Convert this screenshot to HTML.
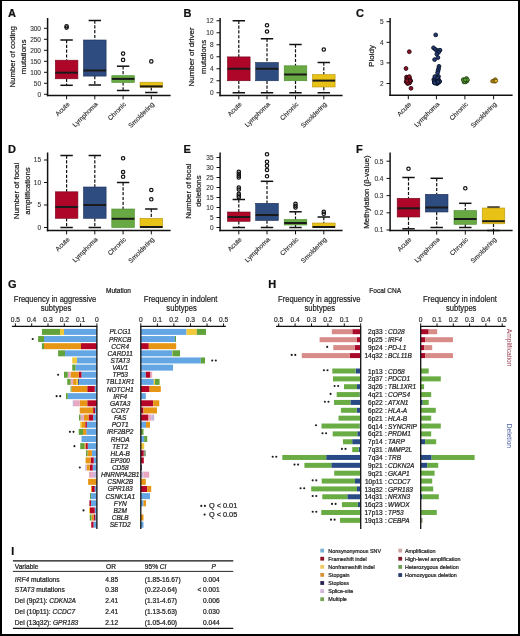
<!DOCTYPE html>
<html><head><meta charset="utf-8"><style>
html,body{margin:0;padding:0;background:#fff;}
.frame{position:relative;width:520px;height:636px;overflow:hidden;background:#fff;}
.frame svg{position:absolute;left:0;top:0;will-change:transform;}
text{stroke-linejoin:round;}
.bt{position:absolute;background:#000;}
</style></head><body><div class="frame">
<svg width="520" height="636" viewBox="0 0 520 636" font-family='"Liberation Sans", sans-serif'>
<rect x="0" y="0" width="520" height="636" fill="#fff"/>
<text x="8.10" y="17.30" font-size="11" fill="#111" stroke="#111" stroke-width="0.22" font-weight="bold">A</text>
<text x="183.40" y="17.30" font-size="11" fill="#111" stroke="#111" stroke-width="0.22" font-weight="bold">B</text>
<text x="355.90" y="17.30" font-size="11" fill="#111" stroke="#111" stroke-width="0.22" font-weight="bold">C</text>
<text x="8.10" y="152.70" font-size="11" fill="#111" stroke="#111" stroke-width="0.22" font-weight="bold">D</text>
<text x="183.40" y="152.70" font-size="11" fill="#111" stroke="#111" stroke-width="0.22" font-weight="bold">E</text>
<text x="355.90" y="152.70" font-size="11" fill="#111" stroke="#111" stroke-width="0.22" font-weight="bold">F</text>
<text x="7.90" y="288.30" font-size="11" fill="#111" stroke="#111" stroke-width="0.22" font-weight="bold">G</text>
<text x="268.20" y="288.30" font-size="11" fill="#111" stroke="#111" stroke-width="0.22" font-weight="bold">H</text>
<text x="11.20" y="554.80" font-size="10.6" fill="#111" stroke="#111" stroke-width="0.22" font-weight="bold">I</text>
<line x1="47.60" y1="18.00" x2="47.60" y2="96.20" stroke="#111" stroke-width="1.5"/>
<line x1="46.85" y1="95.50" x2="170.60" y2="95.50" stroke="#111" stroke-width="1.5"/>
<line x1="44.00" y1="94.30" x2="47.60" y2="94.30" stroke="#111" stroke-width="1"/>
<text x="41.00" y="96.60" font-size="6.5" fill="#333" stroke="#333" stroke-width="0.1" text-anchor="end">0</text>
<line x1="44.00" y1="83.30" x2="47.60" y2="83.30" stroke="#111" stroke-width="1"/>
<text x="41.00" y="85.60" font-size="6.5" fill="#333" stroke="#333" stroke-width="0.1" text-anchor="end">50</text>
<line x1="44.00" y1="72.30" x2="47.60" y2="72.30" stroke="#111" stroke-width="1"/>
<text x="41.00" y="74.60" font-size="6.5" fill="#333" stroke="#333" stroke-width="0.1" text-anchor="end">100</text>
<line x1="44.00" y1="61.30" x2="47.60" y2="61.30" stroke="#111" stroke-width="1"/>
<text x="41.00" y="63.60" font-size="6.5" fill="#333" stroke="#333" stroke-width="0.1" text-anchor="end">150</text>
<line x1="44.00" y1="50.30" x2="47.60" y2="50.30" stroke="#111" stroke-width="1"/>
<text x="41.00" y="52.60" font-size="6.5" fill="#333" stroke="#333" stroke-width="0.1" text-anchor="end">200</text>
<line x1="44.00" y1="39.30" x2="47.60" y2="39.30" stroke="#111" stroke-width="1"/>
<text x="41.00" y="41.60" font-size="6.5" fill="#333" stroke="#333" stroke-width="0.1" text-anchor="end">250</text>
<line x1="44.00" y1="28.30" x2="47.60" y2="28.30" stroke="#111" stroke-width="1"/>
<text x="41.00" y="30.60" font-size="6.5" fill="#333" stroke="#333" stroke-width="0.1" text-anchor="end">300</text>
<text x="15.10" y="56.80" font-size="7.9" fill="#222" stroke="#222" stroke-width="0.22" text-anchor="middle" transform="rotate(-90 15.10 56.80)" textLength="61.4" lengthAdjust="spacingAndGlyphs">Number of coding</text>
<text x="26.40" y="56.80" font-size="7.9" fill="#222" stroke="#222" stroke-width="0.22" text-anchor="middle" transform="rotate(-90 26.40 56.80)" textLength="34.7" lengthAdjust="spacingAndGlyphs">mutations</text>
<line x1="66.60" y1="40.00" x2="66.60" y2="60.20" stroke="#111" stroke-width="1.2" stroke-dasharray="3.2,1.6"/>
<line x1="60.40" y1="40.00" x2="72.80" y2="40.00" stroke="#111" stroke-width="1.5"/>
<line x1="66.60" y1="78.80" x2="66.60" y2="85.30" stroke="#111" stroke-width="1.2" stroke-dasharray="3.2,1.6"/>
<line x1="60.40" y1="85.30" x2="72.80" y2="85.30" stroke="#111" stroke-width="1.5"/>
<rect x="55.30" y="60.20" width="22.60" height="18.60" fill="#ad0629" stroke="#75041c" stroke-width="0.6"/>
<line x1="55.30" y1="72.70" x2="77.90" y2="72.70" stroke="#1a1a1a" stroke-width="2.0"/>
<circle cx="66.60" cy="26.20" r="1.7" fill="none" stroke="#111" stroke-width="1.2"/>
<circle cx="66.60" cy="27.60" r="1.7" fill="none" stroke="#111" stroke-width="1.2"/>
<line x1="94.80" y1="20.50" x2="94.80" y2="40.00" stroke="#111" stroke-width="1.2" stroke-dasharray="3.2,1.6"/>
<line x1="88.60" y1="20.50" x2="101.00" y2="20.50" stroke="#111" stroke-width="1.5"/>
<line x1="94.80" y1="76.10" x2="94.80" y2="85.00" stroke="#111" stroke-width="1.2" stroke-dasharray="3.2,1.6"/>
<line x1="88.60" y1="85.00" x2="101.00" y2="85.00" stroke="#111" stroke-width="1.5"/>
<rect x="83.50" y="40.00" width="22.60" height="36.10" fill="#2e4c80" stroke="#1c3058" stroke-width="0.6"/>
<line x1="83.50" y1="70.50" x2="106.10" y2="70.50" stroke="#1a1a1a" stroke-width="2.0"/>
<line x1="123.10" y1="66.20" x2="123.10" y2="75.70" stroke="#111" stroke-width="1.2" stroke-dasharray="3.2,1.6"/>
<line x1="116.90" y1="66.20" x2="129.30" y2="66.20" stroke="#111" stroke-width="1.5"/>
<line x1="123.10" y1="82.40" x2="123.10" y2="90.50" stroke="#111" stroke-width="1.2" stroke-dasharray="3.2,1.6"/>
<line x1="116.90" y1="90.50" x2="129.30" y2="90.50" stroke="#111" stroke-width="1.5"/>
<rect x="111.80" y="75.70" width="22.60" height="6.70" fill="#68a944" stroke="#468a2a" stroke-width="0.6"/>
<line x1="111.80" y1="78.90" x2="134.40" y2="78.90" stroke="#1a1a1a" stroke-width="2.0"/>
<circle cx="123.10" cy="53.60" r="1.7" fill="none" stroke="#111" stroke-width="1.2"/>
<circle cx="123.10" cy="59.90" r="1.7" fill="none" stroke="#111" stroke-width="1.2"/>
<line x1="151.30" y1="87.20" x2="151.30" y2="92.50" stroke="#111" stroke-width="1.2" stroke-dasharray="3.2,1.6"/>
<line x1="145.10" y1="92.50" x2="157.50" y2="92.50" stroke="#111" stroke-width="1.5"/>
<rect x="140.00" y="82.20" width="22.60" height="5.00" fill="#e9c218" stroke="#b89510" stroke-width="0.6"/>
<line x1="140.00" y1="86.40" x2="162.60" y2="86.40" stroke="#1a1a1a" stroke-width="2.0"/>
<circle cx="151.30" cy="61.40" r="1.7" fill="none" stroke="#111" stroke-width="1.2"/>
<line x1="66.60" y1="95.50" x2="66.60" y2="99.30" stroke="#111" stroke-width="1"/>
<line x1="94.80" y1="95.50" x2="94.80" y2="99.30" stroke="#111" stroke-width="1"/>
<line x1="123.10" y1="95.50" x2="123.10" y2="99.30" stroke="#111" stroke-width="1"/>
<line x1="151.30" y1="95.50" x2="151.30" y2="99.30" stroke="#111" stroke-width="1"/>
<text x="70.00" y="104.70" font-size="6.6" fill="#2a2a2a" stroke="#2a2a2a" stroke-width="0.15" text-anchor="end" transform="rotate(-45 70.00 104.70)">Acute</text>
<text x="98.20" y="104.70" font-size="6.6" fill="#2a2a2a" stroke="#2a2a2a" stroke-width="0.15" text-anchor="end" transform="rotate(-45 98.20 104.70)">Lymphoma</text>
<text x="126.50" y="104.70" font-size="6.6" fill="#2a2a2a" stroke="#2a2a2a" stroke-width="0.15" text-anchor="end" transform="rotate(-45 126.50 104.70)">Chronic</text>
<text x="154.70" y="104.70" font-size="6.6" fill="#2a2a2a" stroke="#2a2a2a" stroke-width="0.15" text-anchor="end" transform="rotate(-45 154.70 104.70)">Smoldering</text>
<line x1="220.10" y1="18.00" x2="220.10" y2="96.20" stroke="#111" stroke-width="1.5"/>
<line x1="219.35" y1="95.50" x2="342.60" y2="95.50" stroke="#111" stroke-width="1.5"/>
<line x1="216.50" y1="92.75" x2="220.10" y2="92.75" stroke="#111" stroke-width="1"/>
<text x="213.50" y="95.05" font-size="6.5" fill="#333" stroke="#333" stroke-width="0.1" text-anchor="end">0</text>
<line x1="216.50" y1="80.75" x2="220.10" y2="80.75" stroke="#111" stroke-width="1"/>
<text x="213.50" y="83.05" font-size="6.5" fill="#333" stroke="#333" stroke-width="0.1" text-anchor="end">2</text>
<line x1="216.50" y1="68.75" x2="220.10" y2="68.75" stroke="#111" stroke-width="1"/>
<text x="213.50" y="71.05" font-size="6.5" fill="#333" stroke="#333" stroke-width="0.1" text-anchor="end">4</text>
<line x1="216.50" y1="56.75" x2="220.10" y2="56.75" stroke="#111" stroke-width="1"/>
<text x="213.50" y="59.05" font-size="6.5" fill="#333" stroke="#333" stroke-width="0.1" text-anchor="end">6</text>
<line x1="216.50" y1="44.75" x2="220.10" y2="44.75" stroke="#111" stroke-width="1"/>
<text x="213.50" y="47.05" font-size="6.5" fill="#333" stroke="#333" stroke-width="0.1" text-anchor="end">8</text>
<line x1="216.50" y1="32.75" x2="220.10" y2="32.75" stroke="#111" stroke-width="1"/>
<text x="213.50" y="35.05" font-size="6.5" fill="#333" stroke="#333" stroke-width="0.1" text-anchor="end">10</text>
<line x1="216.50" y1="20.75" x2="220.10" y2="20.75" stroke="#111" stroke-width="1"/>
<text x="213.50" y="23.05" font-size="6.5" fill="#333" stroke="#333" stroke-width="0.1" text-anchor="end">12</text>
<text x="194.10" y="56.90" font-size="7.9" fill="#222" stroke="#222" stroke-width="0.22" text-anchor="middle" transform="rotate(-90 194.10 56.90)" textLength="59.1" lengthAdjust="spacingAndGlyphs">Number of driver</text>
<text x="205.80" y="56.90" font-size="7.9" fill="#222" stroke="#222" stroke-width="0.22" text-anchor="middle" transform="rotate(-90 205.80 56.90)" textLength="34.0" lengthAdjust="spacingAndGlyphs">mutations</text>
<line x1="238.80" y1="20.75" x2="238.80" y2="56.90" stroke="#111" stroke-width="1.2" stroke-dasharray="3.2,1.6"/>
<line x1="232.60" y1="20.75" x2="245.00" y2="20.75" stroke="#111" stroke-width="1.5"/>
<line x1="238.80" y1="80.75" x2="238.80" y2="92.75" stroke="#111" stroke-width="1.2" stroke-dasharray="3.2,1.6"/>
<line x1="232.60" y1="92.75" x2="245.00" y2="92.75" stroke="#111" stroke-width="1.5"/>
<rect x="227.50" y="56.90" width="22.60" height="23.85" fill="#ad0629" stroke="#75041c" stroke-width="0.6"/>
<line x1="227.50" y1="68.75" x2="250.10" y2="68.75" stroke="#1a1a1a" stroke-width="2.0"/>
<line x1="267.00" y1="38.75" x2="267.00" y2="62.50" stroke="#111" stroke-width="1.2" stroke-dasharray="3.2,1.6"/>
<line x1="260.80" y1="38.75" x2="273.20" y2="38.75" stroke="#111" stroke-width="1.5"/>
<line x1="267.00" y1="80.75" x2="267.00" y2="92.75" stroke="#111" stroke-width="1.2" stroke-dasharray="3.2,1.6"/>
<line x1="260.80" y1="92.75" x2="273.20" y2="92.75" stroke="#111" stroke-width="1.5"/>
<rect x="255.70" y="62.50" width="22.60" height="18.25" fill="#2e4c80" stroke="#1c3058" stroke-width="0.6"/>
<line x1="255.70" y1="68.75" x2="278.30" y2="68.75" stroke="#1a1a1a" stroke-width="2.0"/>
<circle cx="267.00" cy="25.30" r="1.7" fill="none" stroke="#111" stroke-width="1.2"/>
<circle cx="267.00" cy="31.50" r="1.7" fill="none" stroke="#111" stroke-width="1.2"/>
<line x1="295.50" y1="44.50" x2="295.50" y2="65.80" stroke="#111" stroke-width="1.2" stroke-dasharray="3.2,1.6"/>
<line x1="289.30" y1="44.50" x2="301.70" y2="44.50" stroke="#111" stroke-width="1.5"/>
<line x1="295.50" y1="80.75" x2="295.50" y2="92.75" stroke="#111" stroke-width="1.2" stroke-dasharray="3.2,1.6"/>
<line x1="289.30" y1="92.75" x2="301.70" y2="92.75" stroke="#111" stroke-width="1.5"/>
<rect x="284.20" y="65.80" width="22.60" height="14.95" fill="#68a944" stroke="#468a2a" stroke-width="0.6"/>
<line x1="284.20" y1="74.50" x2="306.80" y2="74.50" stroke="#1a1a1a" stroke-width="2.0"/>
<line x1="323.80" y1="62.50" x2="323.80" y2="74.50" stroke="#111" stroke-width="1.2" stroke-dasharray="3.2,1.6"/>
<line x1="317.60" y1="62.50" x2="330.00" y2="62.50" stroke="#111" stroke-width="1.5"/>
<line x1="323.80" y1="87.00" x2="323.80" y2="92.75" stroke="#111" stroke-width="1.2" stroke-dasharray="3.2,1.6"/>
<line x1="317.60" y1="92.75" x2="330.00" y2="92.75" stroke="#111" stroke-width="1.5"/>
<rect x="312.50" y="74.50" width="22.60" height="12.50" fill="#e9c218" stroke="#b89510" stroke-width="0.6"/>
<line x1="312.50" y1="80.60" x2="335.10" y2="80.60" stroke="#1a1a1a" stroke-width="2.0"/>
<circle cx="323.80" cy="49.50" r="1.7" fill="none" stroke="#111" stroke-width="1.2"/>
<line x1="238.80" y1="95.50" x2="238.80" y2="99.30" stroke="#111" stroke-width="1"/>
<line x1="267.00" y1="95.50" x2="267.00" y2="99.30" stroke="#111" stroke-width="1"/>
<line x1="295.50" y1="95.50" x2="295.50" y2="99.30" stroke="#111" stroke-width="1"/>
<line x1="323.80" y1="95.50" x2="323.80" y2="99.30" stroke="#111" stroke-width="1"/>
<text x="242.20" y="104.70" font-size="6.6" fill="#2a2a2a" stroke="#2a2a2a" stroke-width="0.15" text-anchor="end" transform="rotate(-45 242.20 104.70)">Acute</text>
<text x="270.40" y="104.70" font-size="6.6" fill="#2a2a2a" stroke="#2a2a2a" stroke-width="0.15" text-anchor="end" transform="rotate(-45 270.40 104.70)">Lymphoma</text>
<text x="298.90" y="104.70" font-size="6.6" fill="#2a2a2a" stroke="#2a2a2a" stroke-width="0.15" text-anchor="end" transform="rotate(-45 298.90 104.70)">Chronic</text>
<text x="327.20" y="104.70" font-size="6.6" fill="#2a2a2a" stroke="#2a2a2a" stroke-width="0.15" text-anchor="end" transform="rotate(-45 327.20 104.70)">Smoldering</text>
<line x1="390.10" y1="18.00" x2="390.10" y2="96.00" stroke="#111" stroke-width="1.5"/>
<line x1="389.35" y1="95.30" x2="512.60" y2="95.30" stroke="#111" stroke-width="1.5"/>
<line x1="386.50" y1="83.50" x2="390.10" y2="83.50" stroke="#111" stroke-width="1"/>
<text x="383.50" y="85.80" font-size="6.5" fill="#333" stroke="#333" stroke-width="0.1" text-anchor="end">2</text>
<line x1="386.50" y1="62.90" x2="390.10" y2="62.90" stroke="#111" stroke-width="1"/>
<text x="383.50" y="65.20" font-size="6.5" fill="#333" stroke="#333" stroke-width="0.1" text-anchor="end">3</text>
<line x1="386.50" y1="42.30" x2="390.10" y2="42.30" stroke="#111" stroke-width="1"/>
<text x="383.50" y="44.60" font-size="6.5" fill="#333" stroke="#333" stroke-width="0.1" text-anchor="end">4</text>
<line x1="386.50" y1="21.70" x2="390.10" y2="21.70" stroke="#111" stroke-width="1"/>
<text x="383.50" y="24.00" font-size="6.5" fill="#333" stroke="#333" stroke-width="0.1" text-anchor="end">5</text>
<text x="374.00" y="56.00" font-size="7.9" fill="#222" stroke="#222" stroke-width="0.22" text-anchor="middle" transform="rotate(-90 374.00 56.00)" textLength="21.8" lengthAdjust="spacingAndGlyphs">Ploidy</text>
<circle cx="409.30" cy="51.70" r="1.9" fill="#901228" stroke="#25040a" stroke-width="0.9"/>
<circle cx="406.00" cy="68.50" r="1.9" fill="#901228" stroke="#25040a" stroke-width="0.9"/>
<circle cx="411.00" cy="88.30" r="1.9" fill="#901228" stroke="#25040a" stroke-width="0.9"/>
<circle cx="408.08" cy="81.46" r="1.9" fill="#901228" stroke="#25040a" stroke-width="0.9"/>
<circle cx="408.13" cy="79.08" r="1.9" fill="#901228" stroke="#25040a" stroke-width="0.9"/>
<circle cx="406.83" cy="79.43" r="1.9" fill="#901228" stroke="#25040a" stroke-width="0.9"/>
<circle cx="410.60" cy="81.07" r="1.9" fill="#901228" stroke="#25040a" stroke-width="0.9"/>
<circle cx="410.52" cy="80.65" r="1.9" fill="#901228" stroke="#25040a" stroke-width="0.9"/>
<circle cx="409.42" cy="80.54" r="1.9" fill="#901228" stroke="#25040a" stroke-width="0.9"/>
<circle cx="406.17" cy="81.74" r="1.9" fill="#901228" stroke="#25040a" stroke-width="0.9"/>
<circle cx="409.61" cy="81.39" r="1.9" fill="#901228" stroke="#25040a" stroke-width="0.9"/>
<circle cx="406.57" cy="77.06" r="1.9" fill="#901228" stroke="#25040a" stroke-width="0.9"/>
<circle cx="406.93" cy="78.77" r="1.9" fill="#901228" stroke="#25040a" stroke-width="0.9"/>
<circle cx="409.24" cy="79.87" r="1.9" fill="#901228" stroke="#25040a" stroke-width="0.9"/>
<circle cx="409.62" cy="78.24" r="1.9" fill="#901228" stroke="#25040a" stroke-width="0.9"/>
<circle cx="409.23" cy="81.13" r="1.9" fill="#901228" stroke="#25040a" stroke-width="0.9"/>
<circle cx="407.63" cy="83.54" r="1.9" fill="#901228" stroke="#25040a" stroke-width="0.9"/>
<circle cx="409.56" cy="82.90" r="1.9" fill="#901228" stroke="#25040a" stroke-width="0.9"/>
<circle cx="407.42" cy="78.04" r="1.9" fill="#901228" stroke="#25040a" stroke-width="0.9"/>
<circle cx="407.88" cy="79.69" r="1.9" fill="#901228" stroke="#25040a" stroke-width="0.9"/>
<circle cx="409.87" cy="80.70" r="1.9" fill="#901228" stroke="#25040a" stroke-width="0.9"/>
<circle cx="407.77" cy="77.51" r="1.9" fill="#901228" stroke="#25040a" stroke-width="0.9"/>
<circle cx="407.70" cy="82.96" r="1.9" fill="#901228" stroke="#25040a" stroke-width="0.9"/>
<circle cx="407.03" cy="80.67" r="1.9" fill="#901228" stroke="#25040a" stroke-width="0.9"/>
<circle cx="409.29" cy="76.62" r="1.9" fill="#901228" stroke="#25040a" stroke-width="0.9"/>
<circle cx="435.70" cy="34.90" r="1.9" fill="#243c74" stroke="#0a1226" stroke-width="0.9"/>
<circle cx="433.50" cy="47.80" r="1.9" fill="#243c74" stroke="#0a1226" stroke-width="0.9"/>
<circle cx="435.50" cy="49.50" r="1.9" fill="#243c74" stroke="#0a1226" stroke-width="0.9"/>
<circle cx="437.60" cy="50.60" r="1.9" fill="#243c74" stroke="#0a1226" stroke-width="0.9"/>
<circle cx="440.00" cy="50.20" r="1.9" fill="#243c74" stroke="#0a1226" stroke-width="0.9"/>
<circle cx="438.60" cy="52.30" r="1.9" fill="#243c74" stroke="#0a1226" stroke-width="0.9"/>
<circle cx="436.80" cy="54.00" r="1.9" fill="#243c74" stroke="#0a1226" stroke-width="0.9"/>
<circle cx="434.60" cy="59.60" r="1.9" fill="#243c74" stroke="#0a1226" stroke-width="0.9"/>
<circle cx="437.90" cy="57.60" r="1.9" fill="#243c74" stroke="#0a1226" stroke-width="0.9"/>
<circle cx="439.00" cy="66.30" r="1.9" fill="#243c74" stroke="#0a1226" stroke-width="0.9"/>
<circle cx="438.60" cy="68.60" r="1.9" fill="#243c74" stroke="#0a1226" stroke-width="0.9"/>
<circle cx="438.10" cy="70.60" r="1.9" fill="#243c74" stroke="#0a1226" stroke-width="0.9"/>
<circle cx="437.60" cy="72.60" r="1.9" fill="#243c74" stroke="#0a1226" stroke-width="0.9"/>
<circle cx="436.89" cy="83.68" r="1.9" fill="#243c74" stroke="#0a1226" stroke-width="0.9"/>
<circle cx="433.84" cy="79.52" r="1.9" fill="#243c74" stroke="#0a1226" stroke-width="0.9"/>
<circle cx="436.58" cy="77.75" r="1.9" fill="#243c74" stroke="#0a1226" stroke-width="0.9"/>
<circle cx="437.89" cy="80.00" r="1.9" fill="#243c74" stroke="#0a1226" stroke-width="0.9"/>
<circle cx="434.38" cy="82.17" r="1.9" fill="#243c74" stroke="#0a1226" stroke-width="0.9"/>
<circle cx="438.09" cy="82.83" r="1.9" fill="#243c74" stroke="#0a1226" stroke-width="0.9"/>
<circle cx="439.34" cy="81.12" r="1.9" fill="#243c74" stroke="#0a1226" stroke-width="0.9"/>
<circle cx="437.02" cy="76.73" r="1.9" fill="#243c74" stroke="#0a1226" stroke-width="0.9"/>
<circle cx="438.07" cy="78.38" r="1.9" fill="#243c74" stroke="#0a1226" stroke-width="0.9"/>
<circle cx="435.97" cy="76.86" r="1.9" fill="#243c74" stroke="#0a1226" stroke-width="0.9"/>
<circle cx="434.91" cy="78.70" r="1.9" fill="#243c74" stroke="#0a1226" stroke-width="0.9"/>
<circle cx="438.47" cy="76.42" r="1.9" fill="#243c74" stroke="#0a1226" stroke-width="0.9"/>
<circle cx="434.23" cy="80.81" r="1.9" fill="#243c74" stroke="#0a1226" stroke-width="0.9"/>
<circle cx="439.29" cy="81.63" r="1.9" fill="#243c74" stroke="#0a1226" stroke-width="0.9"/>
<circle cx="434.88" cy="76.54" r="1.9" fill="#243c74" stroke="#0a1226" stroke-width="0.9"/>
<circle cx="437.55" cy="77.99" r="1.9" fill="#243c74" stroke="#0a1226" stroke-width="0.9"/>
<circle cx="434.83" cy="82.67" r="1.9" fill="#243c74" stroke="#0a1226" stroke-width="0.9"/>
<circle cx="438.95" cy="80.64" r="1.9" fill="#243c74" stroke="#0a1226" stroke-width="0.9"/>
<circle cx="437.34" cy="81.57" r="1.9" fill="#243c74" stroke="#0a1226" stroke-width="0.9"/>
<circle cx="439.41" cy="81.66" r="1.9" fill="#243c74" stroke="#0a1226" stroke-width="0.9"/>
<circle cx="437.89" cy="81.86" r="1.9" fill="#243c74" stroke="#0a1226" stroke-width="0.9"/>
<circle cx="434.49" cy="82.92" r="1.9" fill="#243c74" stroke="#0a1226" stroke-width="0.9"/>
<circle cx="467.02" cy="81.08" r="1.8" fill="#5e9e36" stroke="#1d3a10" stroke-width="0.7"/>
<circle cx="463.17" cy="79.61" r="1.8" fill="#5e9e36" stroke="#1d3a10" stroke-width="0.7"/>
<circle cx="466.52" cy="78.28" r="1.8" fill="#5e9e36" stroke="#1d3a10" stroke-width="0.7"/>
<circle cx="465.20" cy="81.82" r="1.8" fill="#5e9e36" stroke="#1d3a10" stroke-width="0.7"/>
<circle cx="463.96" cy="82.05" r="1.8" fill="#5e9e36" stroke="#1d3a10" stroke-width="0.7"/>
<circle cx="466.47" cy="80.06" r="1.8" fill="#5e9e36" stroke="#1d3a10" stroke-width="0.7"/>
<circle cx="466.06" cy="81.33" r="1.8" fill="#5e9e36" stroke="#1d3a10" stroke-width="0.7"/>
<circle cx="465.69" cy="81.96" r="1.8" fill="#5e9e36" stroke="#1d3a10" stroke-width="0.7"/>
<circle cx="464.37" cy="79.65" r="1.8" fill="#5e9e36" stroke="#1d3a10" stroke-width="0.7"/>
<circle cx="467.18" cy="80.34" r="1.8" fill="#5e9e36" stroke="#1d3a10" stroke-width="0.7"/>
<circle cx="464.17" cy="81.62" r="1.8" fill="#5e9e36" stroke="#1d3a10" stroke-width="0.7"/>
<circle cx="467.57" cy="79.72" r="1.8" fill="#5e9e36" stroke="#1d3a10" stroke-width="0.7"/>
<circle cx="463.47" cy="80.12" r="1.8" fill="#5e9e36" stroke="#1d3a10" stroke-width="0.7"/>
<circle cx="465.23" cy="79.80" r="1.8" fill="#5e9e36" stroke="#1d3a10" stroke-width="0.7"/>
<circle cx="495.45" cy="79.77" r="1.7" fill="#e8b828" stroke="#5a4408" stroke-width="0.7"/>
<circle cx="495.24" cy="79.59" r="1.7" fill="#e8b828" stroke="#5a4408" stroke-width="0.7"/>
<circle cx="492.32" cy="81.23" r="1.7" fill="#e8b828" stroke="#5a4408" stroke-width="0.7"/>
<circle cx="495.25" cy="81.37" r="1.7" fill="#e8b828" stroke="#5a4408" stroke-width="0.7"/>
<circle cx="494.22" cy="80.76" r="1.7" fill="#e8b828" stroke="#5a4408" stroke-width="0.7"/>
<circle cx="493.87" cy="81.22" r="1.7" fill="#e8b828" stroke="#5a4408" stroke-width="0.7"/>
<circle cx="493.28" cy="80.91" r="1.7" fill="#e8b828" stroke="#5a4408" stroke-width="0.7"/>
<circle cx="494.61" cy="80.60" r="1.7" fill="#e8b828" stroke="#5a4408" stroke-width="0.7"/>
<circle cx="494.86" cy="81.17" r="1.7" fill="#e8b828" stroke="#5a4408" stroke-width="0.7"/>
<circle cx="496.00" cy="80.84" r="1.7" fill="#e8b828" stroke="#5a4408" stroke-width="0.7"/>
<line x1="408.30" y1="95.50" x2="408.30" y2="99.30" stroke="#111" stroke-width="1"/>
<line x1="436.40" y1="95.50" x2="436.40" y2="99.30" stroke="#111" stroke-width="1"/>
<line x1="464.90" y1="95.50" x2="464.90" y2="99.30" stroke="#111" stroke-width="1"/>
<line x1="493.60" y1="95.50" x2="493.60" y2="99.30" stroke="#111" stroke-width="1"/>
<text x="411.70" y="104.70" font-size="6.6" fill="#2a2a2a" stroke="#2a2a2a" stroke-width="0.15" text-anchor="end" transform="rotate(-45 411.70 104.70)">Acute</text>
<text x="439.80" y="104.70" font-size="6.6" fill="#2a2a2a" stroke="#2a2a2a" stroke-width="0.15" text-anchor="end" transform="rotate(-45 439.80 104.70)">Lymphoma</text>
<text x="468.30" y="104.70" font-size="6.6" fill="#2a2a2a" stroke="#2a2a2a" stroke-width="0.15" text-anchor="end" transform="rotate(-45 468.30 104.70)">Chronic</text>
<text x="497.00" y="104.70" font-size="6.6" fill="#2a2a2a" stroke="#2a2a2a" stroke-width="0.15" text-anchor="end" transform="rotate(-45 497.00 104.70)">Smoldering</text>
<line x1="47.60" y1="152.50" x2="47.60" y2="231.30" stroke="#111" stroke-width="1.5"/>
<line x1="46.85" y1="230.60" x2="170.60" y2="230.60" stroke="#111" stroke-width="1.5"/>
<line x1="44.00" y1="227.50" x2="47.60" y2="227.50" stroke="#111" stroke-width="1"/>
<text x="41.00" y="229.80" font-size="6.5" fill="#333" stroke="#333" stroke-width="0.1" text-anchor="end">0</text>
<line x1="44.00" y1="205.00" x2="47.60" y2="205.00" stroke="#111" stroke-width="1"/>
<text x="41.00" y="207.30" font-size="6.5" fill="#333" stroke="#333" stroke-width="0.1" text-anchor="end">5</text>
<line x1="44.00" y1="182.50" x2="47.60" y2="182.50" stroke="#111" stroke-width="1"/>
<text x="41.00" y="184.80" font-size="6.5" fill="#333" stroke="#333" stroke-width="0.1" text-anchor="end">10</text>
<line x1="44.00" y1="160.00" x2="47.60" y2="160.00" stroke="#111" stroke-width="1"/>
<text x="41.00" y="162.30" font-size="6.5" fill="#333" stroke="#333" stroke-width="0.1" text-anchor="end">15</text>
<text x="19.00" y="191.00" font-size="7.9" fill="#222" stroke="#222" stroke-width="0.22" text-anchor="middle" transform="rotate(-90 19.00 191.00)" textLength="56.7" lengthAdjust="spacingAndGlyphs">Number of focal</text>
<text x="29.70" y="191.00" font-size="7.9" fill="#222" stroke="#222" stroke-width="0.22" text-anchor="middle" transform="rotate(-90 29.70 191.00)" textLength="47.4" lengthAdjust="spacingAndGlyphs">amplifications</text>
<line x1="66.60" y1="155.50" x2="66.60" y2="191.80" stroke="#111" stroke-width="1.2" stroke-dasharray="3.2,1.6"/>
<line x1="60.40" y1="155.50" x2="72.80" y2="155.50" stroke="#111" stroke-width="1.5"/>
<line x1="66.60" y1="218.30" x2="66.60" y2="227.50" stroke="#111" stroke-width="1.2" stroke-dasharray="3.2,1.6"/>
<line x1="60.40" y1="227.50" x2="72.80" y2="227.50" stroke="#111" stroke-width="1.5"/>
<rect x="55.30" y="191.80" width="22.60" height="26.50" fill="#ad0629" stroke="#75041c" stroke-width="0.6"/>
<line x1="55.30" y1="207.00" x2="77.90" y2="207.00" stroke="#1a1a1a" stroke-width="2.0"/>
<line x1="94.80" y1="155.50" x2="94.80" y2="187.00" stroke="#111" stroke-width="1.2" stroke-dasharray="3.2,1.6"/>
<line x1="88.60" y1="155.50" x2="101.00" y2="155.50" stroke="#111" stroke-width="1.5"/>
<line x1="94.80" y1="218.30" x2="94.80" y2="227.50" stroke="#111" stroke-width="1.2" stroke-dasharray="3.2,1.6"/>
<line x1="88.60" y1="227.50" x2="101.00" y2="227.50" stroke="#111" stroke-width="1.5"/>
<rect x="83.50" y="187.00" width="22.60" height="31.30" fill="#2e4c80" stroke="#1c3058" stroke-width="0.6"/>
<line x1="83.50" y1="205.00" x2="106.10" y2="205.00" stroke="#1a1a1a" stroke-width="2.0"/>
<line x1="123.10" y1="182.50" x2="123.10" y2="209.00" stroke="#111" stroke-width="1.2" stroke-dasharray="3.2,1.6"/>
<line x1="116.90" y1="182.50" x2="129.30" y2="182.50" stroke="#111" stroke-width="1.5"/>
<rect x="111.80" y="209.00" width="22.60" height="18.50" fill="#68a944" stroke="#468a2a" stroke-width="0.6"/>
<line x1="111.80" y1="218.80" x2="134.40" y2="218.80" stroke="#1a1a1a" stroke-width="2.0"/>
<circle cx="123.10" cy="158.30" r="1.7" fill="none" stroke="#111" stroke-width="1.2"/>
<circle cx="123.10" cy="172.00" r="1.7" fill="none" stroke="#111" stroke-width="1.2"/>
<circle cx="123.10" cy="176.80" r="1.7" fill="none" stroke="#111" stroke-width="1.2"/>
<line x1="151.30" y1="209.00" x2="151.30" y2="218.30" stroke="#111" stroke-width="1.2" stroke-dasharray="3.2,1.6"/>
<line x1="145.10" y1="209.00" x2="157.50" y2="209.00" stroke="#111" stroke-width="1.5"/>
<rect x="140.00" y="218.30" width="22.60" height="9.50" fill="#e9c218" stroke="#b89510" stroke-width="0.6"/>
<line x1="140.00" y1="227.00" x2="162.60" y2="227.00" stroke="#1a1a1a" stroke-width="2.0"/>
<circle cx="151.30" cy="190.00" r="1.7" fill="none" stroke="#111" stroke-width="1.2"/>
<circle cx="151.30" cy="199.30" r="1.7" fill="none" stroke="#111" stroke-width="1.2"/>
<line x1="66.60" y1="230.60" x2="66.60" y2="234.40" stroke="#111" stroke-width="1"/>
<line x1="94.80" y1="230.60" x2="94.80" y2="234.40" stroke="#111" stroke-width="1"/>
<line x1="123.10" y1="230.60" x2="123.10" y2="234.40" stroke="#111" stroke-width="1"/>
<line x1="151.30" y1="230.60" x2="151.30" y2="234.40" stroke="#111" stroke-width="1"/>
<text x="70.00" y="239.80" font-size="6.6" fill="#2a2a2a" stroke="#2a2a2a" stroke-width="0.15" text-anchor="end" transform="rotate(-45 70.00 239.80)">Acute</text>
<text x="98.20" y="239.80" font-size="6.6" fill="#2a2a2a" stroke="#2a2a2a" stroke-width="0.15" text-anchor="end" transform="rotate(-45 98.20 239.80)">Lymphoma</text>
<text x="126.50" y="239.80" font-size="6.6" fill="#2a2a2a" stroke="#2a2a2a" stroke-width="0.15" text-anchor="end" transform="rotate(-45 126.50 239.80)">Chronic</text>
<text x="154.70" y="239.80" font-size="6.6" fill="#2a2a2a" stroke="#2a2a2a" stroke-width="0.15" text-anchor="end" transform="rotate(-45 154.70 239.80)">Smoldering</text>
<line x1="220.10" y1="152.50" x2="220.10" y2="231.30" stroke="#111" stroke-width="1.5"/>
<line x1="219.35" y1="230.60" x2="342.60" y2="230.60" stroke="#111" stroke-width="1.5"/>
<line x1="216.50" y1="227.50" x2="220.10" y2="227.50" stroke="#111" stroke-width="1"/>
<text x="213.50" y="229.80" font-size="6.5" fill="#333" stroke="#333" stroke-width="0.1" text-anchor="end">0</text>
<line x1="216.50" y1="217.50" x2="220.10" y2="217.50" stroke="#111" stroke-width="1"/>
<text x="213.50" y="219.80" font-size="6.5" fill="#333" stroke="#333" stroke-width="0.1" text-anchor="end">5</text>
<line x1="216.50" y1="207.50" x2="220.10" y2="207.50" stroke="#111" stroke-width="1"/>
<text x="213.50" y="209.80" font-size="6.5" fill="#333" stroke="#333" stroke-width="0.1" text-anchor="end">10</text>
<line x1="216.50" y1="197.50" x2="220.10" y2="197.50" stroke="#111" stroke-width="1"/>
<text x="213.50" y="199.80" font-size="6.5" fill="#333" stroke="#333" stroke-width="0.1" text-anchor="end">15</text>
<line x1="216.50" y1="187.50" x2="220.10" y2="187.50" stroke="#111" stroke-width="1"/>
<text x="213.50" y="189.80" font-size="6.5" fill="#333" stroke="#333" stroke-width="0.1" text-anchor="end">20</text>
<line x1="216.50" y1="177.50" x2="220.10" y2="177.50" stroke="#111" stroke-width="1"/>
<text x="213.50" y="179.80" font-size="6.5" fill="#333" stroke="#333" stroke-width="0.1" text-anchor="end">25</text>
<line x1="216.50" y1="167.50" x2="220.10" y2="167.50" stroke="#111" stroke-width="1"/>
<text x="213.50" y="169.80" font-size="6.5" fill="#333" stroke="#333" stroke-width="0.1" text-anchor="end">30</text>
<line x1="216.50" y1="157.50" x2="220.10" y2="157.50" stroke="#111" stroke-width="1"/>
<text x="213.50" y="159.80" font-size="6.5" fill="#333" stroke="#333" stroke-width="0.1" text-anchor="end">35</text>
<text x="190.90" y="191.10" font-size="7.9" fill="#222" stroke="#222" stroke-width="0.22" text-anchor="middle" transform="rotate(-90 190.90 191.10)" textLength="55.4" lengthAdjust="spacingAndGlyphs">Number of focal</text>
<text x="201.40" y="191.10" font-size="7.9" fill="#222" stroke="#222" stroke-width="0.22" text-anchor="middle" transform="rotate(-90 201.40 191.10)" textLength="31.3" lengthAdjust="spacingAndGlyphs">deletions</text>
<line x1="238.80" y1="199.50" x2="238.80" y2="212.00" stroke="#111" stroke-width="1.2" stroke-dasharray="3.2,1.6"/>
<line x1="232.60" y1="199.50" x2="245.00" y2="199.50" stroke="#111" stroke-width="1.5"/>
<line x1="238.80" y1="221.30" x2="238.80" y2="227.50" stroke="#111" stroke-width="1.2" stroke-dasharray="3.2,1.6"/>
<line x1="232.60" y1="227.50" x2="245.00" y2="227.50" stroke="#111" stroke-width="1.5"/>
<rect x="227.50" y="212.00" width="22.60" height="9.30" fill="#ad0629" stroke="#75041c" stroke-width="0.6"/>
<line x1="227.50" y1="217.00" x2="250.10" y2="217.00" stroke="#1a1a1a" stroke-width="2.0"/>
<circle cx="238.80" cy="171.80" r="1.7" fill="none" stroke="#111" stroke-width="1.2"/>
<circle cx="238.80" cy="173.80" r="1.7" fill="none" stroke="#111" stroke-width="1.2"/>
<circle cx="238.80" cy="175.80" r="1.7" fill="none" stroke="#111" stroke-width="1.2"/>
<circle cx="238.80" cy="177.50" r="1.7" fill="none" stroke="#111" stroke-width="1.2"/>
<circle cx="238.80" cy="187.50" r="1.7" fill="none" stroke="#111" stroke-width="1.2"/>
<circle cx="238.80" cy="189.50" r="1.7" fill="none" stroke="#111" stroke-width="1.2"/>
<circle cx="238.80" cy="193.80" r="1.7" fill="none" stroke="#111" stroke-width="1.2"/>
<circle cx="238.80" cy="195.50" r="1.7" fill="none" stroke="#111" stroke-width="1.2"/>
<circle cx="238.80" cy="197.20" r="1.7" fill="none" stroke="#111" stroke-width="1.2"/>
<line x1="267.00" y1="181.30" x2="267.00" y2="203.30" stroke="#111" stroke-width="1.2" stroke-dasharray="3.2,1.6"/>
<line x1="260.80" y1="181.30" x2="273.20" y2="181.30" stroke="#111" stroke-width="1.5"/>
<line x1="267.00" y1="220.50" x2="267.00" y2="227.50" stroke="#111" stroke-width="1.2" stroke-dasharray="3.2,1.6"/>
<line x1="260.80" y1="227.50" x2="273.20" y2="227.50" stroke="#111" stroke-width="1.5"/>
<rect x="255.70" y="203.30" width="22.60" height="17.20" fill="#2e4c80" stroke="#1c3058" stroke-width="0.6"/>
<line x1="255.70" y1="215.00" x2="278.30" y2="215.00" stroke="#1a1a1a" stroke-width="2.0"/>
<circle cx="267.00" cy="154.30" r="1.7" fill="none" stroke="#111" stroke-width="1.2"/>
<circle cx="267.00" cy="161.80" r="1.7" fill="none" stroke="#111" stroke-width="1.2"/>
<circle cx="267.00" cy="165.80" r="1.7" fill="none" stroke="#111" stroke-width="1.2"/>
<circle cx="267.00" cy="170.00" r="1.7" fill="none" stroke="#111" stroke-width="1.2"/>
<circle cx="267.00" cy="176.30" r="1.7" fill="none" stroke="#111" stroke-width="1.2"/>
<line x1="295.50" y1="211.80" x2="295.50" y2="219.50" stroke="#111" stroke-width="1.2" stroke-dasharray="3.2,1.6"/>
<line x1="289.30" y1="211.80" x2="301.70" y2="211.80" stroke="#111" stroke-width="1.5"/>
<line x1="295.50" y1="225.00" x2="295.50" y2="227.50" stroke="#111" stroke-width="1.2" stroke-dasharray="3.2,1.6"/>
<line x1="289.30" y1="227.50" x2="301.70" y2="227.50" stroke="#111" stroke-width="1.5"/>
<rect x="284.20" y="219.50" width="22.60" height="5.50" fill="#68a944" stroke="#468a2a" stroke-width="0.6"/>
<line x1="284.20" y1="223.00" x2="306.80" y2="223.00" stroke="#1a1a1a" stroke-width="2.0"/>
<circle cx="295.50" cy="203.80" r="1.7" fill="none" stroke="#111" stroke-width="1.2"/>
<circle cx="295.50" cy="205.80" r="1.7" fill="none" stroke="#111" stroke-width="1.2"/>
<circle cx="295.50" cy="207.50" r="1.7" fill="none" stroke="#111" stroke-width="1.2"/>
<line x1="323.80" y1="217.00" x2="323.80" y2="223.00" stroke="#111" stroke-width="1.2" stroke-dasharray="3.2,1.6"/>
<line x1="317.60" y1="217.00" x2="330.00" y2="217.00" stroke="#111" stroke-width="1.5"/>
<rect x="312.50" y="223.00" width="22.60" height="4.60" fill="#e9c218" stroke="#b89510" stroke-width="0.6"/>
<line x1="312.50" y1="227.00" x2="335.10" y2="227.00" stroke="#1a1a1a" stroke-width="2.0"/>
<circle cx="323.80" cy="211.80" r="1.7" fill="none" stroke="#111" stroke-width="1.2"/>
<circle cx="323.80" cy="213.80" r="1.7" fill="none" stroke="#111" stroke-width="1.2"/>
<line x1="238.80" y1="230.60" x2="238.80" y2="234.40" stroke="#111" stroke-width="1"/>
<line x1="267.00" y1="230.60" x2="267.00" y2="234.40" stroke="#111" stroke-width="1"/>
<line x1="295.50" y1="230.60" x2="295.50" y2="234.40" stroke="#111" stroke-width="1"/>
<line x1="323.80" y1="230.60" x2="323.80" y2="234.40" stroke="#111" stroke-width="1"/>
<text x="242.20" y="239.80" font-size="6.6" fill="#2a2a2a" stroke="#2a2a2a" stroke-width="0.15" text-anchor="end" transform="rotate(-45 242.20 239.80)">Acute</text>
<text x="270.40" y="239.80" font-size="6.6" fill="#2a2a2a" stroke="#2a2a2a" stroke-width="0.15" text-anchor="end" transform="rotate(-45 270.40 239.80)">Lymphoma</text>
<text x="298.90" y="239.80" font-size="6.6" fill="#2a2a2a" stroke="#2a2a2a" stroke-width="0.15" text-anchor="end" transform="rotate(-45 298.90 239.80)">Chronic</text>
<text x="327.20" y="239.80" font-size="6.6" fill="#2a2a2a" stroke="#2a2a2a" stroke-width="0.15" text-anchor="end" transform="rotate(-45 327.20 239.80)">Smoldering</text>
<line x1="390.10" y1="152.50" x2="390.10" y2="231.20" stroke="#111" stroke-width="1.5"/>
<line x1="389.35" y1="230.50" x2="512.60" y2="230.50" stroke="#111" stroke-width="1.5"/>
<line x1="386.50" y1="230.00" x2="390.10" y2="230.00" stroke="#111" stroke-width="1"/>
<text x="383.50" y="232.30" font-size="6.5" fill="#333" stroke="#333" stroke-width="0.1" text-anchor="end">0.1</text>
<line x1="386.50" y1="212.80" x2="390.10" y2="212.80" stroke="#111" stroke-width="1"/>
<text x="383.50" y="215.10" font-size="6.5" fill="#333" stroke="#333" stroke-width="0.1" text-anchor="end">0.2</text>
<line x1="386.50" y1="195.60" x2="390.10" y2="195.60" stroke="#111" stroke-width="1"/>
<text x="383.50" y="197.90" font-size="6.5" fill="#333" stroke="#333" stroke-width="0.1" text-anchor="end">0.3</text>
<line x1="386.50" y1="178.40" x2="390.10" y2="178.40" stroke="#111" stroke-width="1"/>
<text x="383.50" y="180.70" font-size="6.5" fill="#333" stroke="#333" stroke-width="0.1" text-anchor="end">0.4</text>
<line x1="386.50" y1="161.20" x2="390.10" y2="161.20" stroke="#111" stroke-width="1"/>
<text x="383.50" y="163.50" font-size="6.5" fill="#333" stroke="#333" stroke-width="0.1" text-anchor="end">0.5</text>
<text x="369.40" y="192.00" font-size="7.9" fill="#222" stroke="#222" stroke-width="0.22" text-anchor="middle" transform="rotate(-90 369.40 192.00)" textLength="73.5" lengthAdjust="spacingAndGlyphs">Methylation (β-value)</text>
<line x1="408.50" y1="177.50" x2="408.50" y2="198.30" stroke="#111" stroke-width="1.2" stroke-dasharray="3.2,1.6"/>
<line x1="402.30" y1="177.50" x2="414.70" y2="177.50" stroke="#111" stroke-width="1.5"/>
<line x1="408.50" y1="217.00" x2="408.50" y2="228.80" stroke="#111" stroke-width="1.2" stroke-dasharray="3.2,1.6"/>
<line x1="402.30" y1="228.80" x2="414.70" y2="228.80" stroke="#111" stroke-width="1.5"/>
<rect x="397.20" y="198.30" width="22.60" height="18.70" fill="#ad0629" stroke="#75041c" stroke-width="0.6"/>
<line x1="397.20" y1="208.30" x2="419.80" y2="208.30" stroke="#1a1a1a" stroke-width="2.0"/>
<circle cx="408.50" cy="168.80" r="1.7" fill="none" stroke="#111" stroke-width="1.2"/>
<line x1="436.70" y1="178.30" x2="436.70" y2="194.30" stroke="#111" stroke-width="1.2" stroke-dasharray="3.2,1.6"/>
<line x1="430.50" y1="178.30" x2="442.90" y2="178.30" stroke="#111" stroke-width="1.5"/>
<line x1="436.70" y1="212.00" x2="436.70" y2="227.50" stroke="#111" stroke-width="1.2" stroke-dasharray="3.2,1.6"/>
<line x1="430.50" y1="227.50" x2="442.90" y2="227.50" stroke="#111" stroke-width="1.5"/>
<rect x="425.40" y="194.30" width="22.60" height="17.70" fill="#2e4c80" stroke="#1c3058" stroke-width="0.6"/>
<line x1="425.40" y1="207.50" x2="448.00" y2="207.50" stroke="#1a1a1a" stroke-width="2.0"/>
<line x1="465.30" y1="203.30" x2="465.30" y2="210.50" stroke="#111" stroke-width="1.2" stroke-dasharray="3.2,1.6"/>
<line x1="459.10" y1="203.30" x2="471.50" y2="203.30" stroke="#111" stroke-width="1.5"/>
<line x1="465.30" y1="224.30" x2="465.30" y2="227.50" stroke="#111" stroke-width="1.2" stroke-dasharray="3.2,1.6"/>
<line x1="459.10" y1="227.50" x2="471.50" y2="227.50" stroke="#111" stroke-width="1.5"/>
<rect x="454.00" y="210.50" width="22.60" height="13.80" fill="#68a944" stroke="#468a2a" stroke-width="0.6"/>
<line x1="454.00" y1="219.00" x2="476.60" y2="219.00" stroke="#1a1a1a" stroke-width="2.0"/>
<circle cx="465.30" cy="188.30" r="1.7" fill="none" stroke="#111" stroke-width="1.2"/>
<line x1="487.30" y1="207.10" x2="499.70" y2="207.10" stroke="#111" stroke-width="1.5"/>
<line x1="493.50" y1="223.80" x2="493.50" y2="230.50" stroke="#111" stroke-width="1.2" stroke-dasharray="3.2,1.6"/>
<line x1="487.30" y1="230.50" x2="499.70" y2="230.50" stroke="#111" stroke-width="1.5"/>
<rect x="482.20" y="208.00" width="22.60" height="15.80" fill="#e9c218" stroke="#b89510" stroke-width="0.6"/>
<line x1="482.20" y1="221.20" x2="504.80" y2="221.20" stroke="#1a1a1a" stroke-width="2.0"/>
<line x1="408.50" y1="230.80" x2="408.50" y2="234.60" stroke="#111" stroke-width="1"/>
<line x1="436.70" y1="230.80" x2="436.70" y2="234.60" stroke="#111" stroke-width="1"/>
<line x1="465.30" y1="230.80" x2="465.30" y2="234.60" stroke="#111" stroke-width="1"/>
<line x1="493.50" y1="230.80" x2="493.50" y2="234.60" stroke="#111" stroke-width="1"/>
<text x="411.90" y="240.00" font-size="6.6" fill="#2a2a2a" stroke="#2a2a2a" stroke-width="0.15" text-anchor="end" transform="rotate(-45 411.90 240.00)">Acute</text>
<text x="440.10" y="240.00" font-size="6.6" fill="#2a2a2a" stroke="#2a2a2a" stroke-width="0.15" text-anchor="end" transform="rotate(-45 440.10 240.00)">Lymphoma</text>
<text x="468.70" y="240.00" font-size="6.6" fill="#2a2a2a" stroke="#2a2a2a" stroke-width="0.15" text-anchor="end" transform="rotate(-45 468.70 240.00)">Chronic</text>
<text x="496.90" y="240.00" font-size="6.6" fill="#2a2a2a" stroke="#2a2a2a" stroke-width="0.15" text-anchor="end" transform="rotate(-45 496.90 240.00)">Smoldering</text>
<rect x="64.00" y="328.90" width="32.90" height="6.00" fill="#64a6e4"/>
<rect x="60.00" y="328.90" width="4.00" height="6.00" fill="#f0c83a"/>
<rect x="41.90" y="328.90" width="18.10" height="6.00" fill="#62a23a"/>
<rect x="44.00" y="336.04" width="52.90" height="6.00" fill="#64a6e4"/>
<rect x="38.10" y="336.04" width="5.90" height="6.00" fill="#62a23a"/>
<rect x="81.00" y="343.18" width="15.90" height="6.00" fill="#b50628"/>
<rect x="44.00" y="343.18" width="37.00" height="6.00" fill="#e69614"/>
<rect x="41.90" y="343.18" width="2.10" height="6.00" fill="#62a23a"/>
<rect x="65.00" y="350.32" width="31.90" height="6.00" fill="#64a6e4"/>
<rect x="58.10" y="350.32" width="6.90" height="6.00" fill="#62a23a"/>
<rect x="76.90" y="357.46" width="20.00" height="6.00" fill="#64a6e4"/>
<rect x="72.25" y="357.46" width="4.65" height="6.00" fill="#f0c83a"/>
<rect x="75.60" y="364.60" width="21.30" height="6.00" fill="#64a6e4"/>
<rect x="72.25" y="364.60" width="3.35" height="6.00" fill="#62a23a"/>
<rect x="81.50" y="371.74" width="15.40" height="6.00" fill="#64a6e4"/>
<rect x="78.75" y="371.74" width="2.75" height="6.00" fill="#b50628"/>
<rect x="70.60" y="371.74" width="8.15" height="6.00" fill="#e69614"/>
<rect x="67.75" y="371.74" width="2.85" height="6.00" fill="#e8a8c0"/>
<rect x="64.00" y="371.74" width="3.75" height="6.00" fill="#62a23a"/>
<rect x="78.75" y="378.88" width="18.15" height="6.00" fill="#64a6e4"/>
<rect x="78.00" y="378.88" width="0.75" height="6.00" fill="#232355"/>
<rect x="76.25" y="378.88" width="1.75" height="6.00" fill="#f0c83a"/>
<rect x="73.10" y="378.88" width="3.15" height="6.00" fill="#e69614"/>
<rect x="70.60" y="378.88" width="2.50" height="6.00" fill="#e8a8c0"/>
<rect x="67.25" y="378.88" width="3.35" height="6.00" fill="#62a23a"/>
<rect x="94.75" y="386.02" width="2.15" height="6.00" fill="#64a6e4"/>
<rect x="87.25" y="386.02" width="7.50" height="6.00" fill="#b50628"/>
<rect x="71.50" y="386.02" width="15.75" height="6.00" fill="#e69614"/>
<rect x="70.60" y="386.02" width="0.90" height="6.00" fill="#62a23a"/>
<rect x="67.75" y="393.16" width="29.15" height="6.00" fill="#64a6e4"/>
<rect x="66.00" y="393.16" width="1.75" height="6.00" fill="#62a23a"/>
<rect x="87.25" y="400.30" width="9.65" height="6.00" fill="#b50628"/>
<rect x="79.75" y="400.30" width="7.50" height="6.00" fill="#e69614"/>
<rect x="74.00" y="400.30" width="5.75" height="6.00" fill="#e8a8c0"/>
<rect x="72.75" y="400.30" width="1.25" height="6.00" fill="#c8b4dc"/>
<rect x="95.00" y="407.44" width="1.90" height="6.00" fill="#64a6e4"/>
<rect x="93.10" y="407.44" width="1.90" height="6.00" fill="#b50628"/>
<rect x="79.75" y="407.44" width="13.35" height="6.00" fill="#e69614"/>
<rect x="93.10" y="414.58" width="3.80" height="6.00" fill="#64a6e4"/>
<rect x="88.50" y="414.58" width="4.60" height="6.00" fill="#b50628"/>
<rect x="84.00" y="414.58" width="4.50" height="6.00" fill="#e69614"/>
<rect x="80.50" y="414.58" width="3.50" height="6.00" fill="#e8a8c0"/>
<rect x="79.00" y="414.58" width="1.50" height="6.00" fill="#62a23a"/>
<rect x="86.90" y="421.72" width="10.00" height="6.00" fill="#64a6e4"/>
<rect x="85.25" y="421.72" width="1.65" height="6.00" fill="#b50628"/>
<rect x="82.00" y="421.72" width="3.25" height="6.00" fill="#e69614"/>
<rect x="80.25" y="421.72" width="1.75" height="6.00" fill="#f0c83a"/>
<rect x="86.25" y="428.86" width="10.65" height="6.00" fill="#64a6e4"/>
<rect x="83.10" y="428.86" width="3.15" height="6.00" fill="#e69614"/>
<rect x="78.75" y="428.86" width="4.35" height="6.00" fill="#62a23a"/>
<rect x="81.50" y="436.00" width="15.40" height="6.00" fill="#64a6e4"/>
<rect x="87.75" y="443.14" width="9.15" height="6.00" fill="#64a6e4"/>
<rect x="85.60" y="443.14" width="2.15" height="6.00" fill="#b50628"/>
<rect x="84.40" y="443.14" width="1.20" height="6.00" fill="#e69614"/>
<rect x="80.25" y="443.14" width="4.15" height="6.00" fill="#62a23a"/>
<rect x="91.90" y="450.28" width="5.00" height="6.00" fill="#64a6e4"/>
<rect x="87.50" y="450.28" width="4.40" height="6.00" fill="#e69614"/>
<rect x="86.00" y="450.28" width="1.50" height="6.00" fill="#62a23a"/>
<rect x="93.75" y="457.42" width="3.15" height="6.00" fill="#64a6e4"/>
<rect x="90.60" y="457.42" width="3.15" height="6.00" fill="#b50628"/>
<rect x="85.60" y="457.42" width="5.00" height="6.00" fill="#e69614"/>
<rect x="92.75" y="464.56" width="4.15" height="6.00" fill="#64a6e4"/>
<rect x="89.75" y="464.56" width="3.00" height="6.00" fill="#b50628"/>
<rect x="86.50" y="464.56" width="3.25" height="6.00" fill="#e69614"/>
<rect x="85.25" y="464.56" width="1.25" height="6.00" fill="#c8b4dc"/>
<rect x="93.10" y="471.70" width="3.80" height="6.00" fill="#c8b4dc"/>
<rect x="89.00" y="471.70" width="4.10" height="6.00" fill="#e8a8c0"/>
<rect x="88.10" y="478.84" width="8.80" height="6.00" fill="#e69614"/>
<rect x="94.75" y="485.98" width="2.15" height="6.00" fill="#64a6e4"/>
<rect x="92.00" y="485.98" width="2.75" height="6.00" fill="#b50628"/>
<rect x="91.00" y="485.98" width="1.00" height="6.00" fill="#e69614"/>
<rect x="91.00" y="493.12" width="5.90" height="6.00" fill="#64a6e4"/>
<rect x="90.00" y="493.12" width="1.00" height="6.00" fill="#62a23a"/>
<rect x="91.00" y="500.26" width="5.90" height="6.00" fill="#64a6e4"/>
<rect x="89.40" y="500.26" width="1.60" height="6.00" fill="#b50628"/>
<rect x="94.75" y="507.40" width="2.15" height="6.00" fill="#64a6e4"/>
<rect x="90.00" y="507.40" width="4.75" height="6.00" fill="#b50628"/>
<rect x="89.00" y="507.40" width="1.00" height="6.00" fill="#f0c83a"/>
<rect x="95.25" y="514.54" width="1.65" height="6.00" fill="#64a6e4"/>
<rect x="93.50" y="514.54" width="1.75" height="6.00" fill="#b50628"/>
<rect x="91.50" y="514.54" width="2.00" height="6.00" fill="#e69614"/>
<rect x="89.75" y="514.54" width="1.75" height="6.00" fill="#62a23a"/>
<rect x="93.50" y="521.68" width="3.40" height="6.00" fill="#64a6e4"/>
<rect x="91.25" y="521.68" width="2.25" height="6.00" fill="#b50628"/>
<rect x="140.80" y="328.90" width="45.70" height="6.00" fill="#64a6e4"/>
<rect x="186.50" y="328.90" width="10.30" height="6.00" fill="#f0c83a"/>
<rect x="196.80" y="328.90" width="9.20" height="6.00" fill="#62a23a"/>
<rect x="140.80" y="336.04" width="34.20" height="6.00" fill="#64a6e4"/>
<rect x="175.00" y="336.04" width="1.00" height="6.00" fill="#62a23a"/>
<rect x="140.80" y="343.18" width="8.00" height="6.00" fill="#b50628"/>
<rect x="148.80" y="343.18" width="27.40" height="6.00" fill="#e69614"/>
<rect x="140.80" y="350.32" width="31.20" height="6.00" fill="#64a6e4"/>
<rect x="172.00" y="350.32" width="0.50" height="6.00" fill="#f0c83a"/>
<rect x="172.50" y="350.32" width="7.50" height="6.00" fill="#62a23a"/>
<rect x="140.80" y="357.46" width="60.00" height="6.00" fill="#64a6e4"/>
<rect x="200.80" y="357.46" width="4.20" height="6.00" fill="#62a23a"/>
<rect x="140.80" y="364.60" width="32.20" height="6.00" fill="#64a6e4"/>
<rect x="140.80" y="371.74" width="5.00" height="6.00" fill="#64a6e4"/>
<rect x="145.80" y="371.74" width="4.60" height="6.00" fill="#b50628"/>
<rect x="150.40" y="371.74" width="1.80" height="6.00" fill="#e8a8c0"/>
<rect x="140.80" y="378.88" width="13.00" height="6.00" fill="#64a6e4"/>
<rect x="153.80" y="378.88" width="1.20" height="6.00" fill="#f0c83a"/>
<rect x="155.00" y="378.88" width="4.60" height="6.00" fill="#62a23a"/>
<rect x="140.80" y="386.02" width="8.80" height="6.00" fill="#b50628"/>
<rect x="149.60" y="386.02" width="11.20" height="6.00" fill="#e69614"/>
<rect x="140.80" y="393.16" width="5.00" height="6.00" fill="#64a6e4"/>
<rect x="140.80" y="400.30" width="12.40" height="6.00" fill="#b50628"/>
<rect x="153.20" y="400.30" width="6.10" height="6.00" fill="#e69614"/>
<rect x="140.80" y="407.44" width="2.70" height="6.00" fill="#b50628"/>
<rect x="143.50" y="407.44" width="13.50" height="6.00" fill="#e69614"/>
<rect x="140.80" y="414.58" width="7.70" height="6.00" fill="#b50628"/>
<rect x="148.50" y="414.58" width="2.70" height="6.00" fill="#e8a8c0"/>
<rect x="151.20" y="414.58" width="3.00" height="6.00" fill="#c8b4dc"/>
<rect x="140.80" y="421.72" width="5.20" height="6.00" fill="#64a6e4"/>
<rect x="146.00" y="421.72" width="4.00" height="6.00" fill="#e69614"/>
<rect x="140.80" y="428.86" width="2.70" height="6.00" fill="#62a23a"/>
<rect x="140.80" y="436.00" width="3.40" height="6.00" fill="#64a6e4"/>
<rect x="144.20" y="436.00" width="3.00" height="6.00" fill="#62a23a"/>
<rect x="140.80" y="443.14" width="3.40" height="6.00" fill="#f0c83a"/>
<rect x="140.80" y="450.28" width="3.00" height="6.00" fill="#b50628"/>
<rect x="143.80" y="450.28" width="2.00" height="6.00" fill="#8aa080"/>
<rect x="140.80" y="457.42" width="3.00" height="6.00" fill="#b50628"/>
<rect x="140.80" y="464.56" width="1.00" height="6.00" fill="#232355"/>
<rect x="140.80" y="471.70" width="2.70" height="6.00" fill="#c8b4dc"/>
<rect x="143.50" y="471.70" width="5.70" height="6.00" fill="#e8a8c0"/>
<rect x="140.80" y="478.84" width="5.00" height="6.00" fill="#e69614"/>
<rect x="140.80" y="485.98" width="6.50" height="6.00" fill="#b50628"/>
<rect x="147.30" y="485.98" width="3.90" height="6.00" fill="#e69614"/>
<rect x="140.80" y="493.12" width="9.20" height="6.00" fill="#64a6e4"/>
<rect x="140.80" y="500.26" width="2.70" height="6.00" fill="#64a6e4"/>
<rect x="143.50" y="500.26" width="2.50" height="6.00" fill="#e69614"/>
<rect x="140.80" y="514.54" width="2.70" height="6.00" fill="#e69614"/>
<rect x="140.80" y="521.68" width="2.70" height="6.00" fill="#64a6e4"/>
<line x1="96.90" y1="326.00" x2="96.90" y2="529.00" stroke="#111" stroke-width="1.3"/>
<line x1="140.80" y1="326.00" x2="140.80" y2="529.00" stroke="#111" stroke-width="1.3"/>
<line x1="11.90" y1="326.40" x2="96.90" y2="326.40" stroke="#111" stroke-width="1.2"/>
<line x1="96.90" y1="323.40" x2="96.90" y2="326.40" stroke="#111" stroke-width="1"/>
<text x="96.90" y="321.80" font-size="6.7" fill="#333" stroke="#333" stroke-width="0.22" text-anchor="middle">0</text>
<line x1="80.60" y1="323.40" x2="80.60" y2="326.40" stroke="#111" stroke-width="1"/>
<text x="80.60" y="321.80" font-size="6.7" fill="#333" stroke="#333" stroke-width="0.22" text-anchor="middle">0.1</text>
<line x1="64.30" y1="323.40" x2="64.30" y2="326.40" stroke="#111" stroke-width="1"/>
<text x="64.30" y="321.80" font-size="6.7" fill="#333" stroke="#333" stroke-width="0.22" text-anchor="middle">0.2</text>
<line x1="48.00" y1="323.40" x2="48.00" y2="326.40" stroke="#111" stroke-width="1"/>
<text x="48.00" y="321.80" font-size="6.7" fill="#333" stroke="#333" stroke-width="0.22" text-anchor="middle">0.3</text>
<line x1="31.70" y1="323.40" x2="31.70" y2="326.40" stroke="#111" stroke-width="1"/>
<text x="31.70" y="321.80" font-size="6.7" fill="#333" stroke="#333" stroke-width="0.22" text-anchor="middle">0.4</text>
<line x1="15.40" y1="323.40" x2="15.40" y2="326.40" stroke="#111" stroke-width="1"/>
<text x="15.40" y="321.80" font-size="6.7" fill="#333" stroke="#333" stroke-width="0.22" text-anchor="middle">0.5</text>
<line x1="140.80" y1="326.40" x2="225.80" y2="326.40" stroke="#111" stroke-width="1.2"/>
<line x1="140.80" y1="323.40" x2="140.80" y2="326.40" stroke="#111" stroke-width="1"/>
<text x="140.80" y="321.80" font-size="6.7" fill="#333" stroke="#333" stroke-width="0.22" text-anchor="middle">0</text>
<line x1="157.35" y1="323.40" x2="157.35" y2="326.40" stroke="#111" stroke-width="1"/>
<text x="157.35" y="321.80" font-size="6.7" fill="#333" stroke="#333" stroke-width="0.22" text-anchor="middle">0.1</text>
<line x1="173.90" y1="323.40" x2="173.90" y2="326.40" stroke="#111" stroke-width="1"/>
<text x="173.90" y="321.80" font-size="6.7" fill="#333" stroke="#333" stroke-width="0.22" text-anchor="middle">0.2</text>
<line x1="190.45" y1="323.40" x2="190.45" y2="326.40" stroke="#111" stroke-width="1"/>
<text x="190.45" y="321.80" font-size="6.7" fill="#333" stroke="#333" stroke-width="0.22" text-anchor="middle">0.3</text>
<line x1="207.00" y1="323.40" x2="207.00" y2="326.40" stroke="#111" stroke-width="1"/>
<text x="207.00" y="321.80" font-size="6.7" fill="#333" stroke="#333" stroke-width="0.22" text-anchor="middle">0.4</text>
<line x1="223.55" y1="323.40" x2="223.55" y2="326.40" stroke="#111" stroke-width="1"/>
<text x="223.55" y="321.80" font-size="6.7" fill="#333" stroke="#333" stroke-width="0.22" text-anchor="middle">0.5</text>
<text x="55.00" y="302.20" font-size="9.2" fill="#222" stroke="#222" stroke-width="0.22" text-anchor="middle" textLength="82.5" lengthAdjust="spacingAndGlyphs">Frequency in aggressive</text>
<text x="56.00" y="311.40" font-size="9.2" fill="#222" stroke="#222" stroke-width="0.22" text-anchor="middle" textLength="30.5" lengthAdjust="spacingAndGlyphs">subtypes</text>
<text x="180.60" y="302.20" font-size="9.2" fill="#222" stroke="#222" stroke-width="0.22" text-anchor="middle" textLength="73.8" lengthAdjust="spacingAndGlyphs">Frequency in indolent</text>
<text x="181.60" y="311.40" font-size="9.2" fill="#222" stroke="#222" stroke-width="0.22" text-anchor="middle" textLength="30.5" lengthAdjust="spacingAndGlyphs">subtypes</text>
<text x="118.50" y="293.00" font-size="6.5" fill="#222" stroke="#222" stroke-width="0.22" text-anchor="middle" textLength="25" lengthAdjust="spacingAndGlyphs">Mutation</text>
<text x="120.20" y="334.40" font-size="6.5" fill="#222" stroke="#222" stroke-width="0.22" text-anchor="middle" font-style="italic">PLCG1</text>
<text x="120.20" y="341.54" font-size="6.5" fill="#222" stroke="#222" stroke-width="0.22" text-anchor="middle" font-style="italic">PRKCB</text>
<text x="120.20" y="348.68" font-size="6.5" fill="#222" stroke="#222" stroke-width="0.22" text-anchor="middle" font-style="italic">CCR4</text>
<text x="120.20" y="355.82" font-size="6.5" fill="#222" stroke="#222" stroke-width="0.22" text-anchor="middle" font-style="italic">CARD11</text>
<text x="120.20" y="362.96" font-size="6.5" fill="#222" stroke="#222" stroke-width="0.22" text-anchor="middle" font-style="italic">STAT3</text>
<text x="120.20" y="370.10" font-size="6.5" fill="#222" stroke="#222" stroke-width="0.22" text-anchor="middle" font-style="italic">VAV1</text>
<text x="120.20" y="377.24" font-size="6.5" fill="#222" stroke="#222" stroke-width="0.22" text-anchor="middle" font-style="italic">TP53</text>
<text x="120.20" y="384.38" font-size="6.5" fill="#222" stroke="#222" stroke-width="0.22" text-anchor="middle" font-style="italic">TBL1XR1</text>
<text x="120.20" y="391.52" font-size="6.5" fill="#222" stroke="#222" stroke-width="0.22" text-anchor="middle" font-style="italic">NOTCH1</text>
<text x="120.20" y="398.66" font-size="6.5" fill="#222" stroke="#222" stroke-width="0.22" text-anchor="middle" font-style="italic">IRF4</text>
<text x="120.20" y="405.80" font-size="6.5" fill="#222" stroke="#222" stroke-width="0.22" text-anchor="middle" font-style="italic">GATA3</text>
<text x="120.20" y="412.94" font-size="6.5" fill="#222" stroke="#222" stroke-width="0.22" text-anchor="middle" font-style="italic">CCR7</text>
<text x="120.20" y="420.08" font-size="6.5" fill="#222" stroke="#222" stroke-width="0.22" text-anchor="middle" font-style="italic">FAS</text>
<text x="120.20" y="427.22" font-size="6.5" fill="#222" stroke="#222" stroke-width="0.22" text-anchor="middle" font-style="italic">POT1</text>
<text x="120.20" y="434.36" font-size="6.5" fill="#222" stroke="#222" stroke-width="0.22" text-anchor="middle" font-style="italic">IRF2BP2</text>
<text x="120.20" y="441.50" font-size="6.5" fill="#222" stroke="#222" stroke-width="0.22" text-anchor="middle" font-style="italic">RHOA</text>
<text x="120.20" y="448.64" font-size="6.5" fill="#222" stroke="#222" stroke-width="0.22" text-anchor="middle" font-style="italic">TET2</text>
<text x="120.20" y="455.78" font-size="6.5" fill="#222" stroke="#222" stroke-width="0.22" text-anchor="middle" font-style="italic">HLA-B</text>
<text x="120.20" y="462.92" font-size="6.5" fill="#222" stroke="#222" stroke-width="0.22" text-anchor="middle" font-style="italic">EP300</text>
<text x="120.20" y="470.06" font-size="6.5" fill="#222" stroke="#222" stroke-width="0.22" text-anchor="middle" font-style="italic">CD58</text>
<text x="120.20" y="477.20" font-size="6.5" fill="#222" stroke="#222" stroke-width="0.22" text-anchor="middle" font-style="italic">HNRNPA2B1</text>
<text x="120.20" y="484.34" font-size="6.5" fill="#222" stroke="#222" stroke-width="0.22" text-anchor="middle" font-style="italic">CSNK2B</text>
<text x="120.20" y="491.48" font-size="6.5" fill="#222" stroke="#222" stroke-width="0.22" text-anchor="middle" font-style="italic">GPR183</text>
<text x="120.20" y="498.62" font-size="6.5" fill="#222" stroke="#222" stroke-width="0.22" text-anchor="middle" font-style="italic">CSNK1A1</text>
<text x="120.20" y="505.76" font-size="6.5" fill="#222" stroke="#222" stroke-width="0.22" text-anchor="middle" font-style="italic">FYN</text>
<text x="120.20" y="512.90" font-size="6.5" fill="#222" stroke="#222" stroke-width="0.22" text-anchor="middle" font-style="italic">B2M</text>
<text x="120.20" y="520.04" font-size="6.5" fill="#222" stroke="#222" stroke-width="0.22" text-anchor="middle" font-style="italic">CBLB</text>
<text x="120.20" y="527.18" font-size="6.5" fill="#222" stroke="#222" stroke-width="0.22" text-anchor="middle" font-style="italic">SETD2</text>
<circle cx="32.70" cy="339.04" r="1.05" fill="#1a1a1a"/>
<circle cx="58.10" cy="374.74" r="1.05" fill="#1a1a1a"/>
<circle cx="56.60" cy="396.16" r="1.05" fill="#1a1a1a"/>
<circle cx="60.20" cy="396.16" r="1.05" fill="#1a1a1a"/>
<circle cx="69.90" cy="431.86" r="1.05" fill="#1a1a1a"/>
<circle cx="73.50" cy="431.86" r="1.05" fill="#1a1a1a"/>
<circle cx="74.40" cy="446.14" r="1.05" fill="#1a1a1a"/>
<circle cx="79.80" cy="467.56" r="1.05" fill="#1a1a1a"/>
<circle cx="83.50" cy="510.40" r="1.05" fill="#1a1a1a"/>
<circle cx="212.20" cy="360.46" r="1.05" fill="#1a1a1a"/>
<circle cx="215.80" cy="360.46" r="1.05" fill="#1a1a1a"/>
<circle cx="201.30" cy="505.90" r="1.05" fill="#1a1a1a"/>
<circle cx="204.90" cy="505.90" r="1.05" fill="#1a1a1a"/>
<text x="208.90" y="508.10" font-size="7" fill="#222" stroke="#222" stroke-width="0.22" textLength="28.4" lengthAdjust="spacingAndGlyphs">Q &lt; 0.01</text>
<circle cx="204.60" cy="514.60" r="1.05" fill="#1a1a1a"/>
<text x="208.90" y="516.70" font-size="7" fill="#222" stroke="#222" stroke-width="0.22" textLength="28.4" lengthAdjust="spacingAndGlyphs">Q &lt; 0.05</text>
<rect x="352.30" y="329.20" width="8.40" height="5.00" fill="#aa0a2a"/>
<rect x="331.80" y="329.20" width="20.50" height="5.00" fill="#d78c88"/>
<rect x="356.60" y="337.20" width="4.10" height="5.00" fill="#aa0a2a"/>
<rect x="319.60" y="337.20" width="37.00" height="5.00" fill="#d78c88"/>
<rect x="354.60" y="345.10" width="6.10" height="5.00" fill="#aa0a2a"/>
<rect x="333.30" y="345.10" width="21.30" height="5.00" fill="#d78c88"/>
<rect x="349.90" y="353.10" width="10.80" height="5.00" fill="#aa0a2a"/>
<rect x="301.80" y="353.10" width="48.10" height="5.00" fill="#d78c88"/>
<rect x="355.60" y="368.50" width="5.10" height="5.00" fill="#2a4a86"/>
<rect x="332.30" y="368.50" width="23.30" height="5.00" fill="#6aac44"/>
<rect x="333.00" y="376.36" width="27.70" height="5.00" fill="#6aac44"/>
<rect x="357.00" y="384.22" width="3.70" height="5.00" fill="#2a4a86"/>
<rect x="344.00" y="384.22" width="13.00" height="5.00" fill="#6aac44"/>
<rect x="359.50" y="392.08" width="1.20" height="5.00" fill="#2a4a86"/>
<rect x="336.70" y="392.08" width="22.80" height="5.00" fill="#6aac44"/>
<rect x="350.40" y="399.94" width="10.30" height="5.00" fill="#2a4a86"/>
<rect x="334.00" y="399.94" width="16.40" height="5.00" fill="#6aac44"/>
<rect x="356.80" y="407.80" width="3.90" height="5.00" fill="#2a4a86"/>
<rect x="340.90" y="407.80" width="15.90" height="5.00" fill="#6aac44"/>
<rect x="338.50" y="415.66" width="22.20" height="5.00" fill="#6aac44"/>
<rect x="359.50" y="423.52" width="1.20" height="5.00" fill="#2a4a86"/>
<rect x="321.50" y="423.52" width="38.00" height="5.00" fill="#6aac44"/>
<rect x="357.30" y="431.38" width="3.40" height="5.00" fill="#2a4a86"/>
<rect x="332.70" y="431.38" width="24.60" height="5.00" fill="#6aac44"/>
<rect x="352.20" y="439.24" width="8.50" height="5.00" fill="#2a4a86"/>
<rect x="343.00" y="439.24" width="9.20" height="5.00" fill="#6aac44"/>
<rect x="358.60" y="447.10" width="2.10" height="5.00" fill="#2a4a86"/>
<rect x="352.20" y="447.10" width="6.40" height="5.00" fill="#6aac44"/>
<rect x="326.20" y="454.96" width="34.50" height="5.00" fill="#2a4a86"/>
<rect x="282.30" y="454.96" width="43.90" height="5.00" fill="#6aac44"/>
<rect x="331.30" y="462.82" width="29.40" height="5.00" fill="#2a4a86"/>
<rect x="304.40" y="462.82" width="26.90" height="5.00" fill="#6aac44"/>
<rect x="334.20" y="470.68" width="26.50" height="5.00" fill="#6aac44"/>
<rect x="355.00" y="478.54" width="5.70" height="5.00" fill="#2a4a86"/>
<rect x="321.70" y="478.54" width="33.30" height="5.00" fill="#6aac44"/>
<rect x="357.00" y="486.40" width="3.70" height="5.00" fill="#2a4a86"/>
<rect x="311.20" y="486.40" width="45.80" height="5.00" fill="#6aac44"/>
<rect x="347.30" y="494.26" width="13.40" height="5.00" fill="#2a4a86"/>
<rect x="322.30" y="494.26" width="25.00" height="5.00" fill="#6aac44"/>
<rect x="357.90" y="502.12" width="2.80" height="5.00" fill="#2a4a86"/>
<rect x="341.90" y="502.12" width="16.00" height="5.00" fill="#6aac44"/>
<rect x="321.30" y="509.98" width="39.40" height="5.00" fill="#6aac44"/>
<rect x="340.00" y="517.84" width="20.70" height="5.00" fill="#6aac44"/>
<rect x="420.70" y="329.20" width="8.00" height="5.00" fill="#aa0a2a"/>
<rect x="428.70" y="329.20" width="8.50" height="5.00" fill="#d78c88"/>
<rect x="420.70" y="337.20" width="4.40" height="5.00" fill="#aa0a2a"/>
<rect x="425.10" y="337.20" width="27.90" height="5.00" fill="#d78c88"/>
<rect x="420.70" y="345.10" width="3.40" height="5.00" fill="#aa0a2a"/>
<rect x="424.10" y="345.10" width="8.10" height="5.00" fill="#d78c88"/>
<rect x="420.70" y="353.10" width="4.40" height="5.00" fill="#aa0a2a"/>
<rect x="425.10" y="353.10" width="27.90" height="5.00" fill="#d78c88"/>
<rect x="420.70" y="368.50" width="8.00" height="5.00" fill="#6aac44"/>
<rect x="420.70" y="376.36" width="20.10" height="5.00" fill="#6aac44"/>
<rect x="420.70" y="384.22" width="3.40" height="5.00" fill="#6aac44"/>
<rect x="420.70" y="392.08" width="10.50" height="5.00" fill="#6aac44"/>
<rect x="420.70" y="399.94" width="2.00" height="5.00" fill="#2a4a86"/>
<rect x="422.70" y="399.94" width="6.00" height="5.00" fill="#6aac44"/>
<rect x="420.70" y="407.80" width="15.10" height="5.00" fill="#6aac44"/>
<rect x="420.70" y="415.66" width="10.50" height="5.00" fill="#6aac44"/>
<rect x="420.70" y="423.52" width="20.10" height="5.00" fill="#6aac44"/>
<rect x="420.70" y="431.38" width="10.50" height="5.00" fill="#6aac44"/>
<rect x="420.70" y="439.24" width="4.40" height="5.00" fill="#2a4a86"/>
<rect x="425.10" y="439.24" width="11.10" height="5.00" fill="#6aac44"/>
<rect x="420.70" y="454.96" width="10.90" height="5.00" fill="#2a4a86"/>
<rect x="431.60" y="454.96" width="43.00" height="5.00" fill="#6aac44"/>
<rect x="420.70" y="462.82" width="6.40" height="5.00" fill="#2a4a86"/>
<rect x="427.10" y="462.82" width="11.10" height="5.00" fill="#6aac44"/>
<rect x="420.70" y="470.68" width="13.90" height="5.00" fill="#6aac44"/>
<rect x="420.70" y="478.54" width="11.50" height="5.00" fill="#6aac44"/>
<rect x="420.70" y="486.40" width="12.50" height="5.00" fill="#6aac44"/>
<rect x="420.70" y="494.26" width="1.80" height="5.00" fill="#2a4a86"/>
<rect x="422.50" y="494.26" width="16.30" height="5.00" fill="#6aac44"/>
<rect x="420.70" y="509.98" width="16.10" height="5.00" fill="#6aac44"/>
<rect x="420.70" y="517.84" width="1.80" height="5.00" fill="#8aa080"/>
<line x1="360.70" y1="326.00" x2="360.70" y2="529.00" stroke="#111" stroke-width="1.3"/>
<line x1="420.70" y1="326.00" x2="420.70" y2="529.00" stroke="#111" stroke-width="1.3"/>
<line x1="276.00" y1="326.40" x2="360.70" y2="326.40" stroke="#111" stroke-width="1.2"/>
<line x1="360.70" y1="323.40" x2="360.70" y2="326.40" stroke="#111" stroke-width="1"/>
<text x="360.70" y="321.80" font-size="6.7" fill="#333" stroke="#333" stroke-width="0.22" text-anchor="middle">0</text>
<line x1="344.30" y1="323.40" x2="344.30" y2="326.40" stroke="#111" stroke-width="1"/>
<text x="344.30" y="321.80" font-size="6.7" fill="#333" stroke="#333" stroke-width="0.22" text-anchor="middle">0.1</text>
<line x1="327.90" y1="323.40" x2="327.90" y2="326.40" stroke="#111" stroke-width="1"/>
<text x="327.90" y="321.80" font-size="6.7" fill="#333" stroke="#333" stroke-width="0.22" text-anchor="middle">0.2</text>
<line x1="311.50" y1="323.40" x2="311.50" y2="326.40" stroke="#111" stroke-width="1"/>
<text x="311.50" y="321.80" font-size="6.7" fill="#333" stroke="#333" stroke-width="0.22" text-anchor="middle">0.3</text>
<line x1="295.10" y1="323.40" x2="295.10" y2="326.40" stroke="#111" stroke-width="1"/>
<text x="295.10" y="321.80" font-size="6.7" fill="#333" stroke="#333" stroke-width="0.22" text-anchor="middle">0.4</text>
<line x1="278.70" y1="323.40" x2="278.70" y2="326.40" stroke="#111" stroke-width="1"/>
<text x="278.70" y="321.80" font-size="6.7" fill="#333" stroke="#333" stroke-width="0.22" text-anchor="middle">0.5</text>
<line x1="420.70" y1="326.40" x2="505.50" y2="326.40" stroke="#111" stroke-width="1.2"/>
<line x1="420.70" y1="323.40" x2="420.70" y2="326.40" stroke="#111" stroke-width="1"/>
<text x="420.70" y="321.80" font-size="6.7" fill="#333" stroke="#333" stroke-width="0.22" text-anchor="middle">0</text>
<line x1="437.00" y1="323.40" x2="437.00" y2="326.40" stroke="#111" stroke-width="1"/>
<text x="437.00" y="321.80" font-size="6.7" fill="#333" stroke="#333" stroke-width="0.22" text-anchor="middle">0.1</text>
<line x1="453.30" y1="323.40" x2="453.30" y2="326.40" stroke="#111" stroke-width="1"/>
<text x="453.30" y="321.80" font-size="6.7" fill="#333" stroke="#333" stroke-width="0.22" text-anchor="middle">0.2</text>
<line x1="469.60" y1="323.40" x2="469.60" y2="326.40" stroke="#111" stroke-width="1"/>
<text x="469.60" y="321.80" font-size="6.7" fill="#333" stroke="#333" stroke-width="0.22" text-anchor="middle">0.3</text>
<line x1="485.90" y1="323.40" x2="485.90" y2="326.40" stroke="#111" stroke-width="1"/>
<text x="485.90" y="321.80" font-size="6.7" fill="#333" stroke="#333" stroke-width="0.22" text-anchor="middle">0.4</text>
<line x1="502.20" y1="323.40" x2="502.20" y2="326.40" stroke="#111" stroke-width="1"/>
<text x="502.20" y="321.80" font-size="6.7" fill="#333" stroke="#333" stroke-width="0.22" text-anchor="middle">0.5</text>
<text x="319.30" y="302.20" font-size="9.2" fill="#222" stroke="#222" stroke-width="0.22" text-anchor="middle" textLength="82.5" lengthAdjust="spacingAndGlyphs">Frequency in aggressive</text>
<text x="319.80" y="311.40" font-size="9.2" fill="#222" stroke="#222" stroke-width="0.22" text-anchor="middle" textLength="30.5" lengthAdjust="spacingAndGlyphs">subtypes</text>
<text x="460.00" y="302.20" font-size="9.2" fill="#222" stroke="#222" stroke-width="0.22" text-anchor="middle" textLength="73.8" lengthAdjust="spacingAndGlyphs">Frequency in indolent</text>
<text x="461.20" y="311.40" font-size="9.2" fill="#222" stroke="#222" stroke-width="0.22" text-anchor="middle" textLength="30.5" lengthAdjust="spacingAndGlyphs">subtypes</text>
<text x="385.20" y="293.00" font-size="6.5" fill="#222" stroke="#222" stroke-width="0.22" text-anchor="middle" textLength="31.7" lengthAdjust="spacingAndGlyphs">Focal CNA</text>
<text x="382.50" y="334.30" font-size="6.5" fill="#222" stroke="#222" stroke-width="0.22" text-anchor="end">2q33</text>
<text x="386.00" y="334.30" font-size="6.5" fill="#222" stroke="#222" stroke-width="0.22" text-anchor="middle">:</text>
<text x="388.00" y="334.30" font-size="6.5" fill="#222" stroke="#222" stroke-width="0.22" font-style="italic">CD28</text>
<text x="382.50" y="342.30" font-size="6.5" fill="#222" stroke="#222" stroke-width="0.22" text-anchor="end">6p25</text>
<text x="386.00" y="342.30" font-size="6.5" fill="#222" stroke="#222" stroke-width="0.22" text-anchor="middle">:</text>
<text x="388.00" y="342.30" font-size="6.5" fill="#222" stroke="#222" stroke-width="0.22" font-style="italic">IRF4</text>
<text x="382.50" y="350.20" font-size="6.5" fill="#222" stroke="#222" stroke-width="0.22" text-anchor="end">9p24</text>
<text x="386.00" y="350.20" font-size="6.5" fill="#222" stroke="#222" stroke-width="0.22" text-anchor="middle">:</text>
<text x="388.00" y="350.20" font-size="6.5" fill="#222" stroke="#222" stroke-width="0.22" font-style="italic">PD-L1</text>
<text x="382.50" y="358.20" font-size="6.5" fill="#222" stroke="#222" stroke-width="0.22" text-anchor="end">14q32</text>
<text x="386.00" y="358.20" font-size="6.5" fill="#222" stroke="#222" stroke-width="0.22" text-anchor="middle">:</text>
<text x="388.00" y="358.20" font-size="6.5" fill="#222" stroke="#222" stroke-width="0.22" font-style="italic">BCL11B</text>
<text x="382.50" y="373.60" font-size="6.5" fill="#222" stroke="#222" stroke-width="0.22" text-anchor="end">1p13</text>
<text x="386.00" y="373.60" font-size="6.5" fill="#222" stroke="#222" stroke-width="0.22" text-anchor="middle">:</text>
<text x="388.00" y="373.60" font-size="6.5" fill="#222" stroke="#222" stroke-width="0.22" font-style="italic">CD58</text>
<text x="382.50" y="381.46" font-size="6.5" fill="#222" stroke="#222" stroke-width="0.22" text-anchor="end">2q37</text>
<text x="386.00" y="381.46" font-size="6.5" fill="#222" stroke="#222" stroke-width="0.22" text-anchor="middle">:</text>
<text x="388.00" y="381.46" font-size="6.5" fill="#222" stroke="#222" stroke-width="0.22" font-style="italic">PDCD1</text>
<text x="382.50" y="389.32" font-size="6.5" fill="#222" stroke="#222" stroke-width="0.22" text-anchor="end">3q26</text>
<text x="386.00" y="389.32" font-size="6.5" fill="#222" stroke="#222" stroke-width="0.22" text-anchor="middle">:</text>
<text x="388.00" y="389.32" font-size="6.5" fill="#222" stroke="#222" stroke-width="0.22" font-style="italic">TBL1XR1</text>
<text x="382.50" y="397.18" font-size="6.5" fill="#222" stroke="#222" stroke-width="0.22" text-anchor="end">4q21</text>
<text x="386.00" y="397.18" font-size="6.5" fill="#222" stroke="#222" stroke-width="0.22" text-anchor="middle">:</text>
<text x="388.00" y="397.18" font-size="6.5" fill="#222" stroke="#222" stroke-width="0.22" font-style="italic">COPS4</text>
<text x="382.50" y="405.04" font-size="6.5" fill="#222" stroke="#222" stroke-width="0.22" text-anchor="end">6p22</text>
<text x="386.00" y="405.04" font-size="6.5" fill="#222" stroke="#222" stroke-width="0.22" text-anchor="middle">:</text>
<text x="388.00" y="405.04" font-size="6.5" fill="#222" stroke="#222" stroke-width="0.22" font-style="italic">ATXN1</text>
<text x="382.50" y="412.90" font-size="6.5" fill="#222" stroke="#222" stroke-width="0.22" text-anchor="end">6p22</text>
<text x="386.00" y="412.90" font-size="6.5" fill="#222" stroke="#222" stroke-width="0.22" text-anchor="middle">:</text>
<text x="388.00" y="412.90" font-size="6.5" fill="#222" stroke="#222" stroke-width="0.22" font-style="italic">HLA-A</text>
<text x="382.50" y="420.76" font-size="6.5" fill="#222" stroke="#222" stroke-width="0.22" text-anchor="end">6p21</text>
<text x="386.00" y="420.76" font-size="6.5" fill="#222" stroke="#222" stroke-width="0.22" text-anchor="middle">:</text>
<text x="388.00" y="420.76" font-size="6.5" fill="#222" stroke="#222" stroke-width="0.22" font-style="italic">HLA-B</text>
<text x="382.50" y="428.62" font-size="6.5" fill="#222" stroke="#222" stroke-width="0.22" text-anchor="end">6q14</text>
<text x="386.00" y="428.62" font-size="6.5" fill="#222" stroke="#222" stroke-width="0.22" text-anchor="middle">:</text>
<text x="388.00" y="428.62" font-size="6.5" fill="#222" stroke="#222" stroke-width="0.22" font-style="italic">SYNCRIP</text>
<text x="382.50" y="436.48" font-size="6.5" fill="#222" stroke="#222" stroke-width="0.22" text-anchor="end">6q21</text>
<text x="386.00" y="436.48" font-size="6.5" fill="#222" stroke="#222" stroke-width="0.22" text-anchor="middle">:</text>
<text x="388.00" y="436.48" font-size="6.5" fill="#222" stroke="#222" stroke-width="0.22" font-style="italic">PRDM1</text>
<text x="382.50" y="444.34" font-size="6.5" fill="#222" stroke="#222" stroke-width="0.22" text-anchor="end">7p14</text>
<text x="386.00" y="444.34" font-size="6.5" fill="#222" stroke="#222" stroke-width="0.22" text-anchor="middle">:</text>
<text x="388.00" y="444.34" font-size="6.5" fill="#222" stroke="#222" stroke-width="0.22" font-style="italic">TARP</text>
<text x="382.50" y="452.20" font-size="6.5" fill="#222" stroke="#222" stroke-width="0.22" text-anchor="end">7q31</text>
<text x="386.00" y="452.20" font-size="6.5" fill="#222" stroke="#222" stroke-width="0.22" text-anchor="middle">:</text>
<text x="388.00" y="452.20" font-size="6.5" fill="#222" stroke="#222" stroke-width="0.22" font-style="italic">IMMP2L</text>
<text x="382.50" y="460.06" font-size="6.5" fill="#222" stroke="#222" stroke-width="0.22" text-anchor="end">7q34</text>
<text x="386.00" y="460.06" font-size="6.5" fill="#222" stroke="#222" stroke-width="0.22" text-anchor="middle">:</text>
<text x="388.00" y="460.06" font-size="6.5" fill="#222" stroke="#222" stroke-width="0.22" font-style="italic">TRB</text>
<text x="382.50" y="467.92" font-size="6.5" fill="#222" stroke="#222" stroke-width="0.22" text-anchor="end">9p21</text>
<text x="386.00" y="467.92" font-size="6.5" fill="#222" stroke="#222" stroke-width="0.22" text-anchor="middle">:</text>
<text x="388.00" y="467.92" font-size="6.5" fill="#222" stroke="#222" stroke-width="0.22" font-style="italic">CDKN2A</text>
<text x="382.50" y="475.78" font-size="6.5" fill="#222" stroke="#222" stroke-width="0.22" text-anchor="end">9q21</text>
<text x="386.00" y="475.78" font-size="6.5" fill="#222" stroke="#222" stroke-width="0.22" text-anchor="middle">:</text>
<text x="388.00" y="475.78" font-size="6.5" fill="#222" stroke="#222" stroke-width="0.22" font-style="italic">GKAP1</text>
<text x="382.50" y="483.64" font-size="6.5" fill="#222" stroke="#222" stroke-width="0.22" text-anchor="end">10p11</text>
<text x="386.00" y="483.64" font-size="6.5" fill="#222" stroke="#222" stroke-width="0.22" text-anchor="middle">:</text>
<text x="388.00" y="483.64" font-size="6.5" fill="#222" stroke="#222" stroke-width="0.22" font-style="italic">CCDC7</text>
<text x="382.50" y="491.50" font-size="6.5" fill="#222" stroke="#222" stroke-width="0.22" text-anchor="end">13q32</text>
<text x="386.00" y="491.50" font-size="6.5" fill="#222" stroke="#222" stroke-width="0.22" text-anchor="middle">:</text>
<text x="388.00" y="491.50" font-size="6.5" fill="#222" stroke="#222" stroke-width="0.22" font-style="italic">GPR183</text>
<text x="382.50" y="499.36" font-size="6.5" fill="#222" stroke="#222" stroke-width="0.22" text-anchor="end">14q31</text>
<text x="386.00" y="499.36" font-size="6.5" fill="#222" stroke="#222" stroke-width="0.22" text-anchor="middle">:</text>
<text x="388.00" y="499.36" font-size="6.5" fill="#222" stroke="#222" stroke-width="0.22" font-style="italic">NRXN3</text>
<text x="382.50" y="507.22" font-size="6.5" fill="#222" stroke="#222" stroke-width="0.22" text-anchor="end">16q23</text>
<text x="386.00" y="507.22" font-size="6.5" fill="#222" stroke="#222" stroke-width="0.22" text-anchor="middle">:</text>
<text x="388.00" y="507.22" font-size="6.5" fill="#222" stroke="#222" stroke-width="0.22" font-style="italic">WWOX</text>
<text x="382.50" y="515.08" font-size="6.5" fill="#222" stroke="#222" stroke-width="0.22" text-anchor="end">17p13</text>
<text x="386.00" y="515.08" font-size="6.5" fill="#222" stroke="#222" stroke-width="0.22" text-anchor="middle">:</text>
<text x="388.00" y="515.08" font-size="6.5" fill="#222" stroke="#222" stroke-width="0.22" font-style="italic">TP53</text>
<text x="382.50" y="522.94" font-size="6.5" fill="#222" stroke="#222" stroke-width="0.22" text-anchor="end">19q13</text>
<text x="386.00" y="522.94" font-size="6.5" fill="#222" stroke="#222" stroke-width="0.22" text-anchor="middle">:</text>
<text x="388.00" y="522.94" font-size="6.5" fill="#222" stroke="#222" stroke-width="0.22" font-style="italic">CEBPA</text>
<circle cx="327.20" cy="346.90" r="1.05" fill="#1a1a1a"/>
<circle cx="291.70" cy="354.90" r="1.05" fill="#1a1a1a"/>
<circle cx="295.30" cy="354.90" r="1.05" fill="#1a1a1a"/>
<circle cx="323.90" cy="370.30" r="1.05" fill="#1a1a1a"/>
<circle cx="327.50" cy="370.30" r="1.05" fill="#1a1a1a"/>
<circle cx="334.60" cy="386.02" r="1.05" fill="#1a1a1a"/>
<circle cx="338.20" cy="386.02" r="1.05" fill="#1a1a1a"/>
<circle cx="330.60" cy="393.88" r="1.05" fill="#1a1a1a"/>
<circle cx="324.90" cy="401.74" r="1.05" fill="#1a1a1a"/>
<circle cx="328.50" cy="401.74" r="1.05" fill="#1a1a1a"/>
<circle cx="316.00" cy="425.32" r="1.05" fill="#1a1a1a"/>
<circle cx="322.50" cy="433.18" r="1.05" fill="#1a1a1a"/>
<circle cx="326.10" cy="433.18" r="1.05" fill="#1a1a1a"/>
<circle cx="341.90" cy="448.90" r="1.05" fill="#1a1a1a"/>
<circle cx="345.50" cy="448.90" r="1.05" fill="#1a1a1a"/>
<circle cx="272.70" cy="456.76" r="1.05" fill="#1a1a1a"/>
<circle cx="276.30" cy="456.76" r="1.05" fill="#1a1a1a"/>
<circle cx="294.50" cy="464.62" r="1.05" fill="#1a1a1a"/>
<circle cx="298.10" cy="464.62" r="1.05" fill="#1a1a1a"/>
<circle cx="312.70" cy="480.34" r="1.05" fill="#1a1a1a"/>
<circle cx="316.30" cy="480.34" r="1.05" fill="#1a1a1a"/>
<circle cx="300.60" cy="488.20" r="1.05" fill="#1a1a1a"/>
<circle cx="304.20" cy="488.20" r="1.05" fill="#1a1a1a"/>
<circle cx="312.70" cy="496.06" r="1.05" fill="#1a1a1a"/>
<circle cx="316.30" cy="496.06" r="1.05" fill="#1a1a1a"/>
<circle cx="332.00" cy="503.92" r="1.05" fill="#1a1a1a"/>
<circle cx="335.60" cy="503.92" r="1.05" fill="#1a1a1a"/>
<circle cx="312.70" cy="511.78" r="1.05" fill="#1a1a1a"/>
<circle cx="316.30" cy="511.78" r="1.05" fill="#1a1a1a"/>
<circle cx="331.00" cy="519.64" r="1.05" fill="#1a1a1a"/>
<circle cx="334.60" cy="519.64" r="1.05" fill="#1a1a1a"/>
<text x="506.90" y="347.60" font-size="6.6" fill="#9a4052" text-anchor="middle" transform="rotate(90 506.90 347.60)" textLength="37.6" lengthAdjust="spacingAndGlyphs">Amplification</text>
<text x="506.90" y="435.90" font-size="6.6" fill="#43599a" text-anchor="middle" transform="rotate(90 506.90 435.90)" textLength="24.2" lengthAdjust="spacingAndGlyphs">Deletion</text>
<line x1="12.90" y1="560.90" x2="233.30" y2="560.90" stroke="#111" stroke-width="1.3"/>
<line x1="12.90" y1="571.40" x2="233.30" y2="571.40" stroke="#111" stroke-width="0.9"/>
<line x1="12.90" y1="628.40" x2="233.30" y2="628.40" stroke="#111" stroke-width="1.3"/>
<text x="14.80" y="569.40" font-size="6.6" fill="#222" stroke="#222" stroke-width="0.22">Variable</text>
<text x="111.00" y="569.40" font-size="6.6" fill="#222" stroke="#222" stroke-width="0.22" text-anchor="middle">OR</text>
<text x="144.80" y="569.40" font-size="6.6" fill="#222" stroke="#222" stroke-width="0.22">95% <tspan font-style="italic">CI</tspan></text>
<text x="213.60" y="569.40" font-size="6.6" fill="#222" stroke="#222" stroke-width="0.22" text-anchor="middle" font-style="italic">P</text>
<text x="14.80" y="581.60" font-size="6.6" fill="#222" stroke="#222" stroke-width="0.22"><tspan font-style="italic">IRF4</tspan> mutations</text>
<text x="111.70" y="581.60" font-size="6.6" fill="#222" stroke="#222" stroke-width="0.22" text-anchor="middle">4.85</text>
<text x="144.80" y="581.60" font-size="6.6" fill="#222" stroke="#222" stroke-width="0.22">(1.85-16.67)</text>
<text x="219.60" y="581.60" font-size="6.6" fill="#222" stroke="#222" stroke-width="0.22" text-anchor="end">0.004</text>
<text x="14.80" y="592.40" font-size="6.6" fill="#222" stroke="#222" stroke-width="0.22"><tspan font-style="italic">STAT3</tspan> mutations</text>
<text x="111.70" y="592.40" font-size="6.6" fill="#222" stroke="#222" stroke-width="0.22" text-anchor="middle">0.38</text>
<text x="144.80" y="592.40" font-size="6.6" fill="#222" stroke="#222" stroke-width="0.22">(0.22-0.64)</text>
<text x="219.60" y="592.40" font-size="6.6" fill="#222" stroke="#222" stroke-width="0.22" text-anchor="end">&lt; 0.001</text>
<text x="14.80" y="603.20" font-size="6.6" fill="#222" stroke="#222" stroke-width="0.22">Del (9p21): <tspan font-style="italic">CDKN2A</tspan></text>
<text x="111.70" y="603.20" font-size="6.6" fill="#222" stroke="#222" stroke-width="0.22" text-anchor="middle">2.41</text>
<text x="144.80" y="603.20" font-size="6.6" fill="#222" stroke="#222" stroke-width="0.22">(1.31-4.67)</text>
<text x="219.60" y="603.20" font-size="6.6" fill="#222" stroke="#222" stroke-width="0.22" text-anchor="end">0.006</text>
<text x="14.80" y="614.00" font-size="6.6" fill="#222" stroke="#222" stroke-width="0.22">Del (10p11): <tspan font-style="italic">CCDC7</tspan></text>
<text x="111.70" y="614.00" font-size="6.6" fill="#222" stroke="#222" stroke-width="0.22" text-anchor="middle">2.41</text>
<text x="144.80" y="614.00" font-size="6.6" fill="#222" stroke="#222" stroke-width="0.22">(1.13-5.63)</text>
<text x="219.60" y="614.00" font-size="6.6" fill="#222" stroke="#222" stroke-width="0.22" text-anchor="end">0.030</text>
<text x="14.80" y="624.80" font-size="6.6" fill="#222" stroke="#222" stroke-width="0.22">Del (13q32): <tspan font-style="italic">GPR183</tspan></text>
<text x="111.70" y="624.80" font-size="6.6" fill="#222" stroke="#222" stroke-width="0.22" text-anchor="middle">2.12</text>
<text x="144.80" y="624.80" font-size="6.6" fill="#222" stroke="#222" stroke-width="0.22">(1.05-4.60)</text>
<text x="219.60" y="624.80" font-size="6.6" fill="#222" stroke="#222" stroke-width="0.22" text-anchor="end">0.044</text>
<rect x="320.30" y="548.70" width="3.80" height="3.80" fill="#7ab0d4"/>
<text x="328.30" y="552.50" font-size="5.4" fill="#222" stroke="#222" stroke-width="0.22">Nonsynonymous SNV</text>
<rect x="320.30" y="556.80" width="3.80" height="3.80" fill="#8e1426"/>
<text x="328.30" y="560.60" font-size="5.4" fill="#222" stroke="#222" stroke-width="0.22">Frameshift indel</text>
<rect x="320.30" y="564.90" width="3.80" height="3.80" fill="#f0c860"/>
<text x="328.30" y="568.70" font-size="5.4" fill="#222" stroke="#222" stroke-width="0.22">Nonframeshift indel</text>
<rect x="320.30" y="573.00" width="3.80" height="3.80" fill="#d89236"/>
<text x="328.30" y="576.80" font-size="5.4" fill="#222" stroke="#222" stroke-width="0.22">Stopgain</text>
<rect x="320.30" y="581.10" width="3.80" height="3.80" fill="#24224e"/>
<text x="328.30" y="584.90" font-size="5.4" fill="#222" stroke="#222" stroke-width="0.22">Stoploss</text>
<rect x="320.30" y="589.20" width="3.80" height="3.80" fill="#d2b4d8"/>
<text x="328.30" y="593.00" font-size="5.4" fill="#222" stroke="#222" stroke-width="0.22">Splice-site</text>
<rect x="320.30" y="597.30" width="3.80" height="3.80" fill="#74a456"/>
<text x="328.30" y="601.10" font-size="5.4" fill="#222" stroke="#222" stroke-width="0.22">Multiple</text>
<rect x="398.30" y="548.70" width="3.80" height="3.80" fill="#cfa4a6"/>
<text x="405.00" y="552.50" font-size="5.4" fill="#222" stroke="#222" stroke-width="0.22">Amplification</text>
<rect x="398.30" y="556.85" width="3.80" height="3.80" fill="#80182c"/>
<text x="405.00" y="560.65" font-size="5.4" fill="#222" stroke="#222" stroke-width="0.22">High-level amplification</text>
<rect x="398.30" y="565.00" width="3.80" height="3.80" fill="#6f9f55"/>
<text x="405.00" y="568.80" font-size="5.4" fill="#222" stroke="#222" stroke-width="0.22">Heterozygous deletion</text>
<rect x="398.30" y="573.15" width="3.80" height="3.80" fill="#2b3d6e"/>
<text x="405.00" y="576.95" font-size="5.4" fill="#222" stroke="#222" stroke-width="0.22">Homozygous deletion</text>
</svg>
<div class="bt" style="left:0;top:0;width:520px;height:1px"></div>
<div class="bt" style="left:0;top:0;width:1.5px;height:636px"></div>
<div class="bt" style="right:0;top:0;width:1.6px;height:636px"></div>
<div class="bt" style="left:0;bottom:0;width:520px;height:1.6px"></div>
</div></body></html>
